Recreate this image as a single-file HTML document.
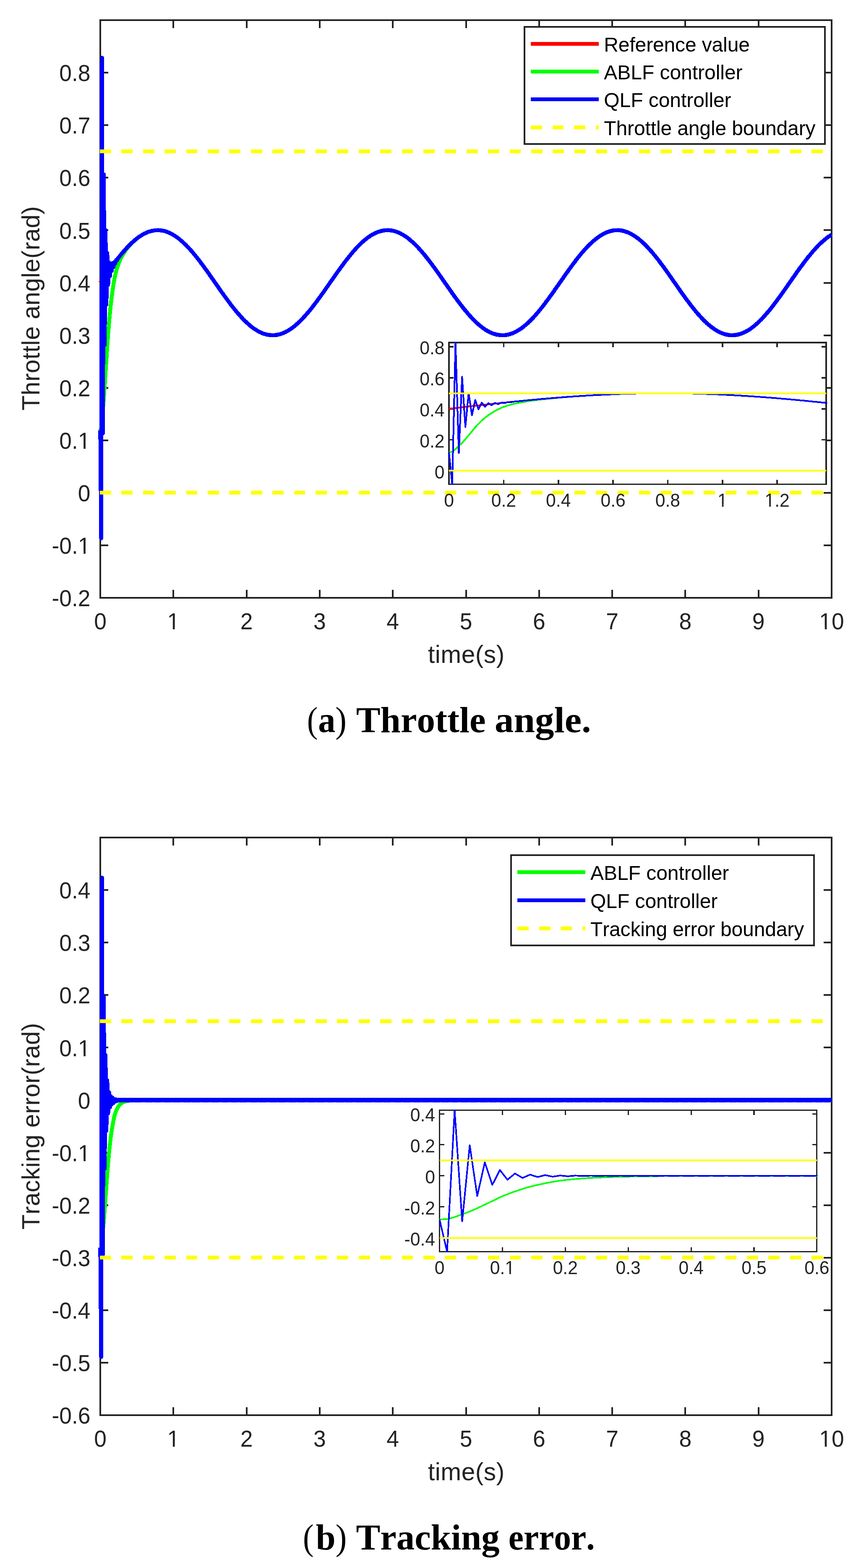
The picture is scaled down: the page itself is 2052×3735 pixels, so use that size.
<!DOCTYPE html>
<html lang="en"><head><meta charset="utf-8"><title>Throttle angle and tracking error</title>
<style>html,body{margin:0;padding:0;background:#fff}body{width:2052px;height:3735px}svg{display:block}text{white-space:pre;font-kerning:none}</style></head><body>
<svg width="2052" height="3735" viewBox="0 0 2052 3735" role="img" aria-label="Throttle angle and tracking error plots">
<rect width="2052" height="3735" fill="#fff"/>
<g shape-rendering="crispEdges">
<g>
<rect x="239" y="48" width="1743" height="1376" fill="#fff" stroke="#232323" stroke-width="4"/>
<path d="M413.3 1424v-19M413.3 48v19M587.6 1424v-19M587.6 48v19M761.9 1424v-19M761.9 48v19M936.2 1424v-19M936.2 48v19M1110.5 1424v-19M1110.5 48v19M1284.8 1424v-19M1284.8 48v19M1459.1 1424v-19M1459.1 48v19M1633.4 1424v-19M1633.4 48v19M1807.7 1424v-19M1807.7 48v19M239 1298.9h19M1982 1298.9h-19M239 1173.8h19M1982 1173.8h-19M239 1048.7h19M1982 1048.7h-19M239 923.6h19M1982 923.6h-19M239 798.5h19M1982 798.5h-19M239 673.5h19M1982 673.5h-19M239 548.4h19M1982 548.4h-19M239 423.3h19M1982 423.3h-19M239 298.2h19M1982 298.2h-19M239 173.1h19M1982 173.1h-19" fill="none" stroke="#232323" stroke-width="4"/>
<text transform="translate(224.17 1499.20) scale(1 1.04)" font-size="53.33" fill="#232323" font-family='"Liberation Sans", sans-serif'>0</text>
<clipPath id="k1"><path clip-rule="evenodd" d="M-9 -53.3H38.7V21.3H-9ZM2.13 -5.48H13.41V5.3H2.13ZM18.12 -5.48H28.80V5.3H18.12Z"/></clipPath>
<text transform="translate(398.47 1499.20) scale(1 1.04)" font-size="53.33" fill="#232323" font-family='"Liberation Sans", sans-serif' clip-path="url(#k1)">1</text>
<text transform="translate(572.77 1499.20) scale(1 1.04)" font-size="53.33" fill="#232323" font-family='"Liberation Sans", sans-serif'>2</text>
<text transform="translate(747.07 1499.20) scale(1 1.04)" font-size="53.33" fill="#232323" font-family='"Liberation Sans", sans-serif'>3</text>
<text transform="translate(921.37 1499.20) scale(1 1.04)" font-size="53.33" fill="#232323" font-family='"Liberation Sans", sans-serif'>4</text>
<text transform="translate(1095.67 1499.20) scale(1 1.04)" font-size="53.33" fill="#232323" font-family='"Liberation Sans", sans-serif'>5</text>
<text transform="translate(1269.97 1499.20) scale(1 1.04)" font-size="53.33" fill="#232323" font-family='"Liberation Sans", sans-serif'>6</text>
<text transform="translate(1444.27 1499.20) scale(1 1.04)" font-size="53.33" fill="#232323" font-family='"Liberation Sans", sans-serif'>7</text>
<text transform="translate(1618.57 1499.20) scale(1 1.04)" font-size="53.33" fill="#232323" font-family='"Liberation Sans", sans-serif'>8</text>
<text transform="translate(1792.87 1499.20) scale(1 1.04)" font-size="53.33" fill="#232323" font-family='"Liberation Sans", sans-serif'>9</text>
<clipPath id="k2"><path clip-rule="evenodd" d="M-9 -53.3H68.3V21.3H-9ZM2.13 -5.48H13.41V5.3H2.13ZM18.12 -5.48H28.80V5.3H18.12Z"/></clipPath>
<text transform="translate(1952.34 1499.20) scale(1 1.04)" font-size="53.33" fill="#232323" font-family='"Liberation Sans", sans-serif' clip-path="url(#k2)">10</text>
<text transform="translate(123.60 1444.20) scale(1 1.04)" font-size="53.33" fill="#232323" font-family='"Liberation Sans", sans-serif'>-0.2</text>
<clipPath id="k3"><path clip-rule="evenodd" d="M-9 -53.3H100.9V21.3H-9ZM64.37 -5.48H75.65V5.3H64.37ZM80.36 -5.48H91.03V5.3H80.36Z"/></clipPath>
<text transform="translate(123.60 1319.11) scale(1 1.04)" font-size="53.33" fill="#232323" font-family='"Liberation Sans", sans-serif' clip-path="url(#k3)">-0.1</text>
<text transform="translate(185.84 1194.02) scale(1 1.04)" font-size="53.33" fill="#232323" font-family='"Liberation Sans", sans-serif'>0</text>
<clipPath id="k4"><path clip-rule="evenodd" d="M-9 -53.3H83.1V21.3H-9ZM46.61 -5.48H57.89V5.3H46.61ZM62.60 -5.48H73.27V5.3H62.60Z"/></clipPath>
<text transform="translate(141.36 1068.93) scale(1 1.04)" font-size="53.33" fill="#232323" font-family='"Liberation Sans", sans-serif' clip-path="url(#k4)">0.1</text>
<text transform="translate(141.36 943.84) scale(1 1.04)" font-size="53.33" fill="#232323" font-family='"Liberation Sans", sans-serif'>0.2</text>
<text transform="translate(141.36 818.75) scale(1 1.04)" font-size="53.33" fill="#232323" font-family='"Liberation Sans", sans-serif'>0.3</text>
<text transform="translate(141.36 693.65) scale(1 1.04)" font-size="53.33" fill="#232323" font-family='"Liberation Sans", sans-serif'>0.4</text>
<text transform="translate(141.36 568.56) scale(1 1.04)" font-size="53.33" fill="#232323" font-family='"Liberation Sans", sans-serif'>0.5</text>
<text transform="translate(141.36 443.47) scale(1 1.04)" font-size="53.33" fill="#232323" font-family='"Liberation Sans", sans-serif'>0.6</text>
<text transform="translate(141.36 318.38) scale(1 1.04)" font-size="53.33" fill="#232323" font-family='"Liberation Sans", sans-serif'>0.7</text>
<text transform="translate(141.36 193.29) scale(1 1.04)" font-size="53.33" fill="#232323" font-family='"Liberation Sans", sans-serif'>0.8</text>
<text x="1111.1" y="1579" font-size="58.67" text-anchor="middle" fill="#232323" font-family='"Liberation Sans", sans-serif' textLength="182.2" lengthAdjust="spacing">time(s)</text>
<text transform="translate(93.5 734.4) rotate(-90)" font-size="58.67" text-anchor="middle" fill="#232323" font-family='"Liberation Sans", sans-serif' textLength="486.6" lengthAdjust="spacing">Throttle angle(rad)</text>
<polyline points="239,673.5 241.1,670.5 243.2,667.5 245.3,664.5 247.4,661.5 249.5,658.5 251.5,655.5 253.6,652.5 255.7,649.6 257.8,646.6 259.9,643.7 262,640.8 264.1,637.9 266.2,635.1 268.3,632.2 270.4,629.4 272.5,626.6 274.6,623.8 276.6,621.1 278.7,618.4 280.8,615.7 282.9,613 285,610.4 287.1,607.9 289.2,605.3 291.3,602.8 293.4,600.4 295.5,598 297.6,595.6 299.7,593.3 301.7,591 303.8,588.7 305.9,586.6 308,584.4 310.1,582.3 312.2,580.3 314.3,578.3 316.4,576.4 318.5,574.5 320.6,572.7 322.7,571 324.8,569.3 326.8,567.7 328.9,566.1 331,564.6 333.1,563.1 335.2,561.7 337.3,560.4 339.4,559.2 341.5,558 343.6,556.9 345.7,555.8 347.8,554.8 349.9,553.9 351.9,553.1 354,552.3 356.1,551.6 358.2,550.9 360.3,550.4 362.4,549.9 364.5,549.4 366.6,549.1 368.7,548.8 370.8,548.6 372.9,548.4 375,548.4 377,548.4 379.1,548.5 381.2,548.6 383.3,548.8 385.4,549.1 387.5,549.5 389.6,549.9 391.7,550.4 393.8,551 395.9,551.6 398,552.4 400.1,553.1 402.1,554 404.2,554.9 406.3,555.9 408.4,557 410.5,558.1 412.6,559.3 414.7,560.6 416.8,561.9 418.9,563.3 421,564.7 423.1,566.2 425.2,567.8 427.2,569.5 429.3,571.2 431.4,572.9 433.5,574.7 435.6,576.6 437.7,578.5 439.8,580.5 441.9,582.5 444,584.6 446.1,586.8 448.2,589 450.3,591.2 452.3,593.5 454.4,595.8 456.5,598.2 458.6,600.6 460.7,603.1 462.8,605.6 464.9,608.1 467,610.7 469.1,613.3 471.2,616 473.3,618.6 475.4,621.4 477.4,624.1 479.5,626.9 481.6,629.7 483.7,632.5 485.8,635.3 487.9,638.2 490,641.1 492.1,644 494.2,646.9 496.3,649.9 498.4,652.8 500.5,655.8 502.5,658.8 504.6,661.8 506.7,664.8 508.8,667.8 510.9,670.8 513,673.8 515.1,676.8 517.2,679.8 519.3,682.8 521.4,685.7 523.5,688.7 525.5,691.7 527.6,694.7 529.7,697.6 531.8,700.6 533.9,703.5 536,706.4 538.1,709.3 540.2,712.1 542.3,715 544.4,717.8 546.5,720.6 548.6,723.4 550.6,726.1 552.7,728.8 554.8,731.5 556.9,734.1 559,736.7 561.1,739.3 563.2,741.8 565.3,744.3 567.4,746.8 569.5,749.2 571.6,751.6 573.7,753.9 575.7,756.2 577.8,758.4 579.9,760.6 582,762.7 584.1,764.8 586.2,766.8 588.3,768.8 590.4,770.7 592.5,772.6 594.6,774.4 596.7,776.1 598.8,777.8 600.8,779.4 602.9,781 605,782.5 607.1,783.9 609.2,785.3 611.3,786.6 613.4,787.9 615.5,789 617.6,790.2 619.7,791.2 621.8,792.2 623.9,793.1 625.9,793.9 628,794.7 630.1,795.4 632.2,796 634.3,796.6 636.4,797.1 638.5,797.5 640.6,797.9 642.7,798.1 644.8,798.3 646.9,798.5 649,798.5 651,798.5 653.1,798.4 655.2,798.3 657.3,798.1 659.4,797.8 661.5,797.4 663.6,797 665.7,796.4 667.8,795.9 669.9,795.2 672,794.5 674.1,793.7 676.1,792.8 678.2,791.9 680.3,790.9 682.4,789.8 684.5,788.7 686.6,787.5 688.7,786.2 690.8,784.9 692.9,783.5 695,782 697.1,780.5 699.2,778.9 701.2,777.3 703.3,775.6 705.4,773.8 707.5,772 709.6,770.1 711.7,768.2 713.8,766.2 715.9,764.2 718,762.1 720.1,759.9 722.2,757.7 724.3,755.5 726.3,753.2 728.4,750.9 730.5,748.5 732.6,746.1 734.7,743.6 736.8,741.1 738.9,738.5 741,736 743.1,733.3 745.2,730.7 747.3,728 749.4,725.3 751.4,722.5 753.5,719.8 755.6,717 757.7,714.1 759.8,711.3 761.9,708.4 764,705.5 766.1,702.6 768.2,699.7 770.3,696.7 772.4,693.8 774.4,690.8 776.5,687.8 778.6,684.8 780.7,681.9 782.8,678.9 784.9,675.9 787,672.9 789.1,669.9 791.2,666.9 793.3,663.9 795.4,660.9 797.5,657.9 799.5,654.9 801.6,651.9 803.7,649 805.8,646.1 807.9,643.1 810,640.2 812.1,637.3 814.2,634.5 816.3,631.6 818.4,628.8 820.5,626 822.6,623.3 824.6,620.5 826.7,617.8 828.8,615.2 830.9,612.5 833,609.9 835.1,607.3 837.2,604.8 839.3,602.3 841.4,599.9 843.5,597.5 845.6,595.1 847.7,592.8 849.7,590.5 851.8,588.3 853.9,586.1 856,584 858.1,581.9 860.2,579.9 862.3,577.9 864.4,576 866.5,574.2 868.6,572.4 870.7,570.6 872.8,569 874.8,567.3 876.9,565.8 879,564.3 881.1,562.8 883.2,561.5 885.3,560.2 887.4,558.9 889.5,557.8 891.6,556.6 893.7,555.6 895.8,554.6 897.9,553.7 899.9,552.9 902,552.1 904.1,551.4 906.2,550.8 908.3,550.3 910.4,549.8 912.5,549.4 914.6,549 916.7,548.7 918.8,548.5 920.9,548.4 923,548.4 925,548.4 927.1,548.5 929.2,548.6 931.3,548.9 933.4,549.2 935.5,549.6 937.6,550 939.7,550.5 941.8,551.1 943.9,551.8 946,552.5 948.1,553.3 950.1,554.2 952.2,555.1 954.3,556.1 956.4,557.2 958.5,558.3 960.6,559.5 962.7,560.8 964.8,562.2 966.9,563.6 969,565 971.1,566.6 973.2,568.1 975.2,569.8 977.3,571.5 979.4,573.3 981.5,575.1 983.6,577 985.7,578.9 987.8,580.9 989.9,583 992,585.1 994.1,587.2 996.2,589.4 998.3,591.7 1000.3,593.9 1002.4,596.3 1004.5,598.7 1006.6,601.1 1008.7,603.6 1010.8,606.1 1012.9,608.6 1015,611.2 1017.1,613.8 1019.2,616.5 1021.3,619.2 1023.4,621.9 1025.4,624.7 1027.5,627.4 1029.6,630.2 1031.7,633.1 1033.8,635.9 1035.9,638.8 1038,641.7 1040.1,644.6 1042.2,647.5 1044.3,650.5 1046.4,653.4 1048.4,656.4 1050.5,659.4 1052.6,662.4 1054.7,665.4 1056.8,668.4 1058.9,671.4 1061,674.4 1063.1,677.4 1065.2,680.4 1067.3,683.4 1069.4,686.3 1071.5,689.3 1073.5,692.3 1075.6,695.3 1077.7,698.2 1079.8,701.1 1081.9,704.1 1084,707 1086.1,709.9 1088.2,712.7 1090.3,715.6 1092.4,718.4 1094.5,721.2 1096.6,723.9 1098.6,726.6 1100.7,729.3 1102.8,732 1104.9,734.7 1107,737.3 1109.1,739.8 1111.2,742.3 1113.3,744.8 1115.4,747.3 1117.5,749.7 1119.6,752 1121.7,754.3 1123.7,756.6 1125.8,758.8 1127.9,761 1130,763.1 1132.1,765.2 1134.2,767.2 1136.3,769.2 1138.4,771.1 1140.5,772.9 1142.6,774.7 1144.7,776.4 1146.8,778.1 1148.8,779.7 1150.9,781.3 1153,782.8 1155.1,784.2 1157.2,785.6 1159.3,786.9 1161.4,788.1 1163.5,789.3 1165.6,790.4 1167.7,791.4 1169.8,792.4 1171.9,793.3 1173.9,794.1 1176,794.9 1178.1,795.5 1180.2,796.2 1182.3,796.7 1184.4,797.2 1186.5,797.6 1188.6,797.9 1190.7,798.2 1192.8,798.4 1194.9,798.5 1197,798.5 1199,798.5 1201.1,798.4 1203.2,798.3 1205.3,798 1207.4,797.7 1209.5,797.3 1211.6,796.9 1213.7,796.3 1215.8,795.7 1217.9,795.1 1220,794.3 1222.1,793.5 1224.1,792.6 1226.2,791.7 1228.3,790.7 1230.4,789.6 1232.5,788.5 1234.6,787.2 1236.7,786 1238.8,784.6 1240.9,783.2 1243,781.7 1245.1,780.2 1247.2,778.6 1249.2,776.9 1251.3,775.2 1253.4,773.5 1255.5,771.6 1257.6,769.7 1259.7,767.8 1261.8,765.8 1263.9,763.7 1266,761.6 1268.1,759.5 1270.2,757.3 1272.3,755 1274.3,752.7 1276.4,750.4 1278.5,748 1280.6,745.6 1282.7,743.1 1284.8,740.6 1286.9,738 1289,735.4 1291.1,732.8 1293.2,730.1 1295.3,727.5 1297.3,724.7 1299.4,722 1301.5,719.2 1303.6,716.4 1305.7,713.6 1307.8,710.7 1309.9,707.8 1312,704.9 1314.1,702 1316.2,699.1 1318.3,696.1 1320.4,693.2 1322.4,690.2 1324.5,687.2 1326.6,684.2 1328.7,681.3 1330.8,678.3 1332.9,675.3 1335,672.3 1337.1,669.2 1339.2,666.2 1341.3,663.3 1343.4,660.3 1345.5,657.3 1347.5,654.3 1349.6,651.4 1351.7,648.4 1353.8,645.5 1355.9,642.6 1358,639.7 1360.1,636.8 1362.2,633.9 1364.3,631.1 1366.4,628.3 1368.5,625.5 1370.6,622.7 1372.6,620 1374.7,617.3 1376.8,614.6 1378.9,612 1381,609.4 1383.1,606.8 1385.2,604.3 1387.3,601.8 1389.4,599.4 1391.5,597 1393.6,594.6 1395.7,592.3 1397.7,590.1 1399.8,587.9 1401.9,585.7 1404,583.6 1406.1,581.5 1408.2,579.5 1410.3,577.6 1412.4,575.7 1414.5,573.8 1416.6,572 1418.7,570.3 1420.8,568.6 1422.8,567 1424.9,565.5 1427,564 1429.1,562.6 1431.2,561.2 1433.3,559.9 1435.4,558.7 1437.5,557.5 1439.6,556.4 1441.7,555.4 1443.8,554.4 1445.9,553.6 1447.9,552.7 1450,552 1452.1,551.3 1454.2,550.7 1456.3,550.1 1458.4,549.7 1460.5,549.3 1462.6,549 1464.7,548.7 1466.8,548.5 1468.9,548.4 1471,548.4 1473,548.4 1475.1,548.5 1477.2,548.7 1479.3,548.9 1481.4,549.2 1483.5,549.6 1485.6,550.1 1487.7,550.6 1489.8,551.2 1491.9,551.9 1494,552.7 1496.1,553.5 1498.1,554.4 1500.2,555.3 1502.3,556.3 1504.4,557.4 1506.5,558.6 1508.6,559.8 1510.7,561.1 1512.8,562.4 1514.9,563.8 1517,565.3 1519.1,566.9 1521.2,568.5 1523.2,570.1 1525.3,571.9 1527.4,573.6 1529.5,575.5 1531.6,577.4 1533.7,579.3 1535.8,581.3 1537.9,583.4 1540,585.5 1542.1,587.6 1544.2,589.9 1546.2,592.1 1548.3,594.4 1550.4,596.8 1552.5,599.2 1554.6,601.6 1556.7,604.1 1558.8,606.6 1560.9,609.1 1563,611.7 1565.1,614.4 1567.2,617 1569.3,619.7 1571.3,622.5 1573.4,625.2 1575.5,628 1577.6,630.8 1579.7,633.6 1581.8,636.5 1583.9,639.4 1586,642.3 1588.1,645.2 1590.2,648.1 1592.3,651.1 1594.4,654 1596.4,657 1598.5,660 1600.6,663 1602.7,666 1604.8,669 1606.9,672 1609,675 1611.1,678 1613.2,681 1615.3,684 1617.4,686.9 1619.5,689.9 1621.5,692.9 1623.6,695.9 1625.7,698.8 1627.8,701.7 1629.9,704.6 1632,707.5 1634.1,710.4 1636.2,713.3 1638.3,716.1 1640.4,718.9 1642.5,721.7 1644.6,724.5 1646.6,727.2 1648.7,729.9 1650.8,732.6 1652.9,735.2 1655,737.8 1657.1,740.3 1659.2,742.8 1661.3,745.3 1663.4,747.8 1665.5,750.2 1667.6,752.5 1669.7,754.8 1671.7,757.1 1673.8,759.3 1675.9,761.4 1678,763.5 1680.1,765.6 1682.2,767.6 1684.3,769.6 1686.4,771.4 1688.5,773.3 1690.6,775.1 1692.7,776.8 1694.8,778.4 1696.8,780 1698.9,781.6 1701,783.1 1703.1,784.5 1705.2,785.8 1707.3,787.1 1709.4,788.3 1711.5,789.5 1713.6,790.6 1715.7,791.6 1717.8,792.6 1719.9,793.4 1721.9,794.3 1724,795 1726.1,795.7 1728.2,796.3 1730.3,796.8 1732.4,797.3 1734.5,797.7 1736.6,798 1738.7,798.2 1740.8,798.4 1742.9,798.5 1745,798.5 1747,798.5 1749.1,798.4 1751.2,798.2 1753.3,798 1755.4,797.6 1757.5,797.2 1759.6,796.8 1761.7,796.2 1763.8,795.6 1765.9,794.9 1768,794.2 1770.1,793.3 1772.1,792.5 1774.2,791.5 1776.3,790.5 1778.4,789.4 1780.5,788.2 1782.6,787 1784.7,785.7 1786.8,784.3 1788.9,782.9 1791,781.4 1793.1,779.9 1795.2,778.3 1797.2,776.6 1799.3,774.9 1801.4,773.1 1803.5,771.3 1805.6,769.4 1807.7,767.4 1809.8,765.4 1811.9,763.3 1814,761.2 1816.1,759 1818.2,756.8 1820.2,754.6 1822.3,752.3 1824.4,749.9 1826.5,747.5 1828.6,745.1 1830.7,742.6 1832.8,740.1 1834.9,737.5 1837,734.9 1839.1,732.3 1841.2,729.6 1843.3,726.9 1845.3,724.2 1847.4,721.4 1849.5,718.6 1851.6,715.8 1853.7,713 1855.8,710.1 1857.9,707.2 1860,704.3 1862.1,701.4 1864.2,698.5 1866.3,695.5 1868.4,692.6 1870.4,689.6 1872.5,686.6 1874.6,683.6 1876.7,680.7 1878.8,677.7 1880.9,674.6 1883,671.6 1885.1,668.6 1887.2,665.6 1889.3,662.7 1891.4,659.7 1893.5,656.7 1895.5,653.7 1897.6,650.8 1899.7,647.8 1901.8,644.9 1903.9,642 1906,639.1 1908.1,636.2 1910.2,633.3 1912.3,630.5 1914.4,627.7 1916.5,624.9 1918.6,622.2 1920.6,619.4 1922.7,616.8 1924.8,614.1 1926.9,611.5 1929,608.9 1931.1,606.3 1933.2,603.8 1935.3,601.3 1937.4,598.9 1939.5,596.5 1941.6,594.2 1943.7,591.9 1945.7,589.6 1947.8,587.4 1949.9,585.3 1952,583.2 1954.1,581.1 1956.2,579.1 1958.3,577.2 1960.4,575.3 1962.5,573.4 1964.6,571.7 1966.7,570 1968.8,568.3 1970.8,566.7 1972.9,565.2 1975,563.7 1977.1,562.3 1979.2,560.9 1982,559.3" fill="none" stroke="#f00" stroke-width="9.33" stroke-linejoin="round" stroke-linecap="butt"/>
<polyline points="239,1025.3 241.1,1021 243.2,1000.7 245.3,974.7 247.4,950.2 249.5,919.9 251.5,888.2 253.6,856.4 255.7,823.5 257.8,795.3 259.9,769.4 262,746.4 264.1,725.5 266.2,708.4 268.3,692.5 270.4,678.2 272.5,665.4 274.6,655.6 276.6,647.1 278.7,639.7 280.8,633.2 282.9,627.4 285,622.2 287.1,617.5 289.2,613.2 291.3,609.3 293.4,605.7 295.5,602.3 297.6,599.1 299.7,596.2 301.7,593.4 303.8,590.7 305.9,588.2 308,585.7 310.1,583.4 312.2,581.2 314.3,579.1 316.4,577 318.5,575 320.6,573.1 322.7,571.3 324.8,569.6 326.8,567.9 328.9,566.3 331,564.7 333.1,563.2 335.2,561.8 337.3,560.5 339.4,559.2 341.5,558 343.6,556.9 345.7,555.8 347.8,554.9 349.9,553.9 351.9,553.1 354,552.3 356.1,551.6 358.2,550.9 360.3,550.4 362.4,549.9 364.5,549.4 366.6,549.1 368.7,548.8 370.8,548.6 372.9,548.4 375,548.4 377,548.4 379.1,548.5 381.2,548.6 383.3,548.8 385.4,549.1 387.5,549.5 389.6,549.9 391.7,550.4 393.8,551 395.9,551.6 398,552.4 400.1,553.1 402.1,554 404.2,554.9 406.3,555.9 408.4,557 410.5,558.1 412.6,559.3 414.7,560.6 416.8,561.9 418.9,563.3 421,564.7 423.1,566.2 425.2,567.8 427.2,569.5 429.3,571.2 431.4,572.9 433.5,574.7 435.6,576.6 437.7,578.5 439.8,580.5 441.9,582.5 444,584.6 446.1,586.8 448.2,589 450.3,591.2 452.3,593.5 454.4,595.8 456.5,598.2 458.6,600.6 460.7,603.1 462.8,605.6 464.9,608.1 467,610.7 469.1,613.3 471.2,616 473.3,618.6 475.4,621.4 477.4,624.1 479.5,626.9 481.6,629.7 483.7,632.5 485.8,635.3 487.9,638.2 490,641.1 492.1,644 494.2,646.9 496.3,649.9 498.4,652.8 500.5,655.8 502.5,658.8 504.6,661.8 506.7,664.8 508.8,667.8 510.9,670.8 513,673.8 515.1,676.8 517.2,679.8 519.3,682.8 521.4,685.7 523.5,688.7 525.5,691.7 527.6,694.7 529.7,697.6 531.8,700.6 533.9,703.5 536,706.4 538.1,709.3 540.2,712.1 542.3,715 544.4,717.8 546.5,720.6 548.6,723.4 550.6,726.1 552.7,728.8 554.8,731.5 556.9,734.1 559,736.7 561.1,739.3 563.2,741.8 565.3,744.3 567.4,746.8 569.5,749.2 571.6,751.6 573.7,753.9 575.7,756.2 577.8,758.4 579.9,760.6 582,762.7 584.1,764.8 586.2,766.8 588.3,768.8 590.4,770.7 592.5,772.6 594.6,774.4 596.7,776.1 598.8,777.8 600.8,779.4 602.9,781 605,782.5 607.1,783.9 609.2,785.3 611.3,786.6 613.4,787.9 615.5,789 617.6,790.2 619.7,791.2 621.8,792.2 623.9,793.1 625.9,793.9 628,794.7 630.1,795.4 632.2,796 634.3,796.6 636.4,797.1 638.5,797.5 640.6,797.9 642.7,798.1 644.8,798.3 646.9,798.5 649,798.5 651,798.5 653.1,798.4 655.2,798.3 657.3,798.1 659.4,797.8 661.5,797.4 663.6,797 665.7,796.4 667.8,795.9 669.9,795.2 672,794.5 674.1,793.7 676.1,792.8 678.2,791.9 680.3,790.9 682.4,789.8 684.5,788.7 686.6,787.5 688.7,786.2 690.8,784.9 692.9,783.5 695,782 697.1,780.5 699.2,778.9 701.2,777.3 703.3,775.6 705.4,773.8 707.5,772 709.6,770.1 711.7,768.2 713.8,766.2 715.9,764.2 718,762.1 720.1,759.9 722.2,757.7 724.3,755.5 726.3,753.2 728.4,750.9 730.5,748.5 732.6,746.1 734.7,743.6 736.8,741.1 738.9,738.5 741,736 743.1,733.3 745.2,730.7 747.3,728 749.4,725.3 751.4,722.5 753.5,719.8 755.6,717 757.7,714.1 759.8,711.3 761.9,708.4 764,705.5 766.1,702.6 768.2,699.7 770.3,696.7 772.4,693.8 774.4,690.8 776.5,687.8 778.6,684.8 780.7,681.9 782.8,678.9 784.9,675.9 787,672.9 789.1,669.9 791.2,666.9 793.3,663.9 795.4,660.9 797.5,657.9 799.5,654.9 801.6,651.9 803.7,649 805.8,646.1 807.9,643.1 810,640.2 812.1,637.3 814.2,634.5 816.3,631.6 818.4,628.8 820.5,626 822.6,623.3 824.6,620.5 826.7,617.8 828.8,615.2 830.9,612.5 833,609.9 835.1,607.3 837.2,604.8 839.3,602.3 841.4,599.9 843.5,597.5 845.6,595.1 847.7,592.8 849.7,590.5 851.8,588.3 853.9,586.1 856,584 858.1,581.9 860.2,579.9 862.3,577.9 864.4,576 866.5,574.2 868.6,572.4 870.7,570.6 872.8,569 874.8,567.3 876.9,565.8 879,564.3 881.1,562.8 883.2,561.5 885.3,560.2 887.4,558.9 889.5,557.8 891.6,556.6 893.7,555.6 895.8,554.6 897.9,553.7 899.9,552.9 902,552.1 904.1,551.4 906.2,550.8 908.3,550.3 910.4,549.8 912.5,549.4 914.6,549 916.7,548.7 918.8,548.5 920.9,548.4 923,548.4 925,548.4 927.1,548.5 929.2,548.6 931.3,548.9 933.4,549.2 935.5,549.6 937.6,550 939.7,550.5 941.8,551.1 943.9,551.8 946,552.5 948.1,553.3 950.1,554.2 952.2,555.1 954.3,556.1 956.4,557.2 958.5,558.3 960.6,559.5 962.7,560.8 964.8,562.2 966.9,563.6 969,565 971.1,566.6 973.2,568.1 975.2,569.8 977.3,571.5 979.4,573.3 981.5,575.1 983.6,577 985.7,578.9 987.8,580.9 989.9,583 992,585.1 994.1,587.2 996.2,589.4 998.3,591.7 1000.3,593.9 1002.4,596.3 1004.5,598.7 1006.6,601.1 1008.7,603.6 1010.8,606.1 1012.9,608.6 1015,611.2 1017.1,613.8 1019.2,616.5 1021.3,619.2 1023.4,621.9 1025.4,624.7 1027.5,627.4 1029.6,630.2 1031.7,633.1 1033.8,635.9 1035.9,638.8 1038,641.7 1040.1,644.6 1042.2,647.5 1044.3,650.5 1046.4,653.4 1048.4,656.4 1050.5,659.4 1052.6,662.4 1054.7,665.4 1056.8,668.4 1058.9,671.4 1061,674.4 1063.1,677.4 1065.2,680.4 1067.3,683.4 1069.4,686.3 1071.5,689.3 1073.5,692.3 1075.6,695.3 1077.7,698.2 1079.8,701.1 1081.9,704.1 1084,707 1086.1,709.9 1088.2,712.7 1090.3,715.6 1092.4,718.4 1094.5,721.2 1096.6,723.9 1098.6,726.6 1100.7,729.3 1102.8,732 1104.9,734.7 1107,737.3 1109.1,739.8 1111.2,742.3 1113.3,744.8 1115.4,747.3 1117.5,749.7 1119.6,752 1121.7,754.3 1123.7,756.6 1125.8,758.8 1127.9,761 1130,763.1 1132.1,765.2 1134.2,767.2 1136.3,769.2 1138.4,771.1 1140.5,772.9 1142.6,774.7 1144.7,776.4 1146.8,778.1 1148.8,779.7 1150.9,781.3 1153,782.8 1155.1,784.2 1157.2,785.6 1159.3,786.9 1161.4,788.1 1163.5,789.3 1165.6,790.4 1167.7,791.4 1169.8,792.4 1171.9,793.3 1173.9,794.1 1176,794.9 1178.1,795.5 1180.2,796.2 1182.3,796.7 1184.4,797.2 1186.5,797.6 1188.6,797.9 1190.7,798.2 1192.8,798.4 1194.9,798.5 1197,798.5 1199,798.5 1201.1,798.4 1203.2,798.3 1205.3,798 1207.4,797.7 1209.5,797.3 1211.6,796.9 1213.7,796.3 1215.8,795.7 1217.9,795.1 1220,794.3 1222.1,793.5 1224.1,792.6 1226.2,791.7 1228.3,790.7 1230.4,789.6 1232.5,788.5 1234.6,787.2 1236.7,786 1238.8,784.6 1240.9,783.2 1243,781.7 1245.1,780.2 1247.2,778.6 1249.2,776.9 1251.3,775.2 1253.4,773.5 1255.5,771.6 1257.6,769.7 1259.7,767.8 1261.8,765.8 1263.9,763.7 1266,761.6 1268.1,759.5 1270.2,757.3 1272.3,755 1274.3,752.7 1276.4,750.4 1278.5,748 1280.6,745.6 1282.7,743.1 1284.8,740.6 1286.9,738 1289,735.4 1291.1,732.8 1293.2,730.1 1295.3,727.5 1297.3,724.7 1299.4,722 1301.5,719.2 1303.6,716.4 1305.7,713.6 1307.8,710.7 1309.9,707.8 1312,704.9 1314.1,702 1316.2,699.1 1318.3,696.1 1320.4,693.2 1322.4,690.2 1324.5,687.2 1326.6,684.2 1328.7,681.3 1330.8,678.3 1332.9,675.3 1335,672.3 1337.1,669.2 1339.2,666.2 1341.3,663.3 1343.4,660.3 1345.5,657.3 1347.5,654.3 1349.6,651.4 1351.7,648.4 1353.8,645.5 1355.9,642.6 1358,639.7 1360.1,636.8 1362.2,633.9 1364.3,631.1 1366.4,628.3 1368.5,625.5 1370.6,622.7 1372.6,620 1374.7,617.3 1376.8,614.6 1378.9,612 1381,609.4 1383.1,606.8 1385.2,604.3 1387.3,601.8 1389.4,599.4 1391.5,597 1393.6,594.6 1395.7,592.3 1397.7,590.1 1399.8,587.9 1401.9,585.7 1404,583.6 1406.1,581.5 1408.2,579.5 1410.3,577.6 1412.4,575.7 1414.5,573.8 1416.6,572 1418.7,570.3 1420.8,568.6 1422.8,567 1424.9,565.5 1427,564 1429.1,562.6 1431.2,561.2 1433.3,559.9 1435.4,558.7 1437.5,557.5 1439.6,556.4 1441.7,555.4 1443.8,554.4 1445.9,553.6 1447.9,552.7 1450,552 1452.1,551.3 1454.2,550.7 1456.3,550.1 1458.4,549.7 1460.5,549.3 1462.6,549 1464.7,548.7 1466.8,548.5 1468.9,548.4 1471,548.4 1473,548.4 1475.1,548.5 1477.2,548.7 1479.3,548.9 1481.4,549.2 1483.5,549.6 1485.6,550.1 1487.7,550.6 1489.8,551.2 1491.9,551.9 1494,552.7 1496.1,553.5 1498.1,554.4 1500.2,555.3 1502.3,556.3 1504.4,557.4 1506.5,558.6 1508.6,559.8 1510.7,561.1 1512.8,562.4 1514.9,563.8 1517,565.3 1519.1,566.9 1521.2,568.5 1523.2,570.1 1525.3,571.9 1527.4,573.6 1529.5,575.5 1531.6,577.4 1533.7,579.3 1535.8,581.3 1537.9,583.4 1540,585.5 1542.1,587.6 1544.2,589.9 1546.2,592.1 1548.3,594.4 1550.4,596.8 1552.5,599.2 1554.6,601.6 1556.7,604.1 1558.8,606.6 1560.9,609.1 1563,611.7 1565.1,614.4 1567.2,617 1569.3,619.7 1571.3,622.5 1573.4,625.2 1575.5,628 1577.6,630.8 1579.7,633.6 1581.8,636.5 1583.9,639.4 1586,642.3 1588.1,645.2 1590.2,648.1 1592.3,651.1 1594.4,654 1596.4,657 1598.5,660 1600.6,663 1602.7,666 1604.8,669 1606.9,672 1609,675 1611.1,678 1613.2,681 1615.3,684 1617.4,686.9 1619.5,689.9 1621.5,692.9 1623.6,695.9 1625.7,698.8 1627.8,701.7 1629.9,704.6 1632,707.5 1634.1,710.4 1636.2,713.3 1638.3,716.1 1640.4,718.9 1642.5,721.7 1644.6,724.5 1646.6,727.2 1648.7,729.9 1650.8,732.6 1652.9,735.2 1655,737.8 1657.1,740.3 1659.2,742.8 1661.3,745.3 1663.4,747.8 1665.5,750.2 1667.6,752.5 1669.7,754.8 1671.7,757.1 1673.8,759.3 1675.9,761.4 1678,763.5 1680.1,765.6 1682.2,767.6 1684.3,769.6 1686.4,771.4 1688.5,773.3 1690.6,775.1 1692.7,776.8 1694.8,778.4 1696.8,780 1698.9,781.6 1701,783.1 1703.1,784.5 1705.2,785.8 1707.3,787.1 1709.4,788.3 1711.5,789.5 1713.6,790.6 1715.7,791.6 1717.8,792.6 1719.9,793.4 1721.9,794.3 1724,795 1726.1,795.7 1728.2,796.3 1730.3,796.8 1732.4,797.3 1734.5,797.7 1736.6,798 1738.7,798.2 1740.8,798.4 1742.9,798.5 1745,798.5 1747,798.5 1749.1,798.4 1751.2,798.2 1753.3,798 1755.4,797.6 1757.5,797.2 1759.6,796.8 1761.7,796.2 1763.8,795.6 1765.9,794.9 1768,794.2 1770.1,793.3 1772.1,792.5 1774.2,791.5 1776.3,790.5 1778.4,789.4 1780.5,788.2 1782.6,787 1784.7,785.7 1786.8,784.3 1788.9,782.9 1791,781.4 1793.1,779.9 1795.2,778.3 1797.2,776.6 1799.3,774.9 1801.4,773.1 1803.5,771.3 1805.6,769.4 1807.7,767.4 1809.8,765.4 1811.9,763.3 1814,761.2 1816.1,759 1818.2,756.8 1820.2,754.6 1822.3,752.3 1824.4,749.9 1826.5,747.5 1828.6,745.1 1830.7,742.6 1832.8,740.1 1834.9,737.5 1837,734.9 1839.1,732.3 1841.2,729.6 1843.3,726.9 1845.3,724.2 1847.4,721.4 1849.5,718.6 1851.6,715.8 1853.7,713 1855.8,710.1 1857.9,707.2 1860,704.3 1862.1,701.4 1864.2,698.5 1866.3,695.5 1868.4,692.6 1870.4,689.6 1872.5,686.6 1874.6,683.6 1876.7,680.7 1878.8,677.7 1880.9,674.6 1883,671.6 1885.1,668.6 1887.2,665.6 1889.3,662.7 1891.4,659.7 1893.5,656.7 1895.5,653.7 1897.6,650.8 1899.7,647.8 1901.8,644.9 1903.9,642 1906,639.1 1908.1,636.2 1910.2,633.3 1912.3,630.5 1914.4,627.7 1916.5,624.9 1918.6,622.2 1920.6,619.4 1922.7,616.8 1924.8,614.1 1926.9,611.5 1929,608.9 1931.1,606.3 1933.2,603.8 1935.3,601.3 1937.4,598.9 1939.5,596.5 1941.6,594.2 1943.7,591.9 1945.7,589.6 1947.8,587.4 1949.9,585.3 1952,583.2 1954.1,581.1 1956.2,579.1 1958.3,577.2 1960.4,575.3 1962.5,573.4 1964.6,571.7 1966.7,570 1968.8,568.3 1970.8,566.7 1972.9,565.2 1975,563.7 1977.1,562.3 1979.2,560.9 1982,559.3" fill="none" stroke="#0f0" stroke-width="9.33" stroke-linejoin="round" stroke-linecap="butt"/>
<polyline points="239,1025.3 241.1,1282.5 243.2,137.7 245.3,1032.1 247.4,415.2 249.5,821.5 251.5,547.8 253.6,725.8 255.7,602.9 257.8,678.3 259.9,625.1 262,658.1 264.1,628.5 266.2,645.1 268.3,626.5 270.4,636.5 272.5,624.5 274.6,627.6 276.6,619.6 278.7,620.2 280.8,615.4 282.9,613.3 285,610.2 287.1,608.1 289.2,605.1 291.3,603.1 293.4,600.1 295.5,598.2 297.6,595.3 299.7,593.5 301.7,590.7 303.8,589 305.9,586.3 308,584.7 310.1,582.1 312.2,580.6 314.3,578.1 316.4,576.7 318.5,574.3 320.6,573 322.7,570.7 324.8,569.5 326.8,567.4 328.9,566.3 331,564.3 333.1,563.4 335.2,561.5 337.3,560.7 339.4,558.9 341.5,558.2 343.6,556.6 345.7,556.1 347.8,554.6 349.9,554.2 351.9,552.8 354,552.5 356.1,551.3 358.2,551.2 360.3,550.1 362.4,550.1 364.5,549.2 366.6,549.3 368.7,548.5 370.8,548.8 372.9,548.2 375,548.6 377,548.1 379.1,548.7 381.2,548.3 383.3,549.1 385.4,548.9 387.5,549.7 389.6,549.7 391.7,550.7 393.8,550.7 395.9,551.9 398,552.1 400.1,553.4 402.1,553.7 404.2,555.2 406.3,555.7 408.4,557.2 410.5,557.9 412.6,559.5 414.7,560.3 416.8,562.1 418.9,563 421,565 423.1,566 425.2,568.1 427.2,569.2 429.3,571.4 431.4,572.7 433.5,575 435.6,576.3 437.7,578.8 439.8,580.3 441.9,582.8 444,584.4 446.1,587 448.2,588.7 450.3,591.4 452.3,593.2 454.4,596.1 456.5,597.9 458.6,600.9 460.7,602.8 462.8,605.8 464.9,607.9 467,610.9 469.1,613.1 471.2,616.2 473.3,618.4 475.4,621.6 477.4,623.8 479.5,627.1 481.6,629.4 483.7,632.7 485.8,635.1 487.9,638.5 490,640.9 492.1,644.3 494.2,646.7 496.3,650.1 498.4,652.6 500.5,656.1 502.5,658.5 504.6,662 506.7,664.5 508.8,668 510.9,670.5 513,674 515.1,676.5 517.2,680 519.3,682.5 521.4,686 523.5,688.5 525.5,692 527.6,694.4 529.7,697.9 531.8,700.3 533.9,703.7 536,706.1 538.1,709.5 540.2,711.9 542.3,715.2 544.4,717.6 546.5,720.8 548.6,723.1 550.6,726.4 552.7,728.6 554.8,731.7 556.9,733.9 559,737 561.1,739.1 563.2,742.1 565.3,744.1 567.4,747 569.5,748.9 571.6,751.8 573.7,753.6 575.7,756.4 577.8,758.1 579.9,760.8 582,762.5 584.1,765 586.2,766.6 588.3,769 590.4,770.4 592.5,772.8 594.6,774.1 596.7,776.4 598.8,777.5 600.8,779.7 602.9,780.7 605,782.7 607.1,783.7 609.2,785.5 611.3,786.4 613.4,788.1 615.5,788.8 617.6,790.4 619.7,791 621.8,792.4 623.9,792.8 625.9,794.2 628,794.5 630.1,795.7 632.2,795.8 634.3,796.9 636.4,796.8 638.5,797.8 640.6,797.6 642.7,798.4 644.8,798.1 646.9,798.7 649,798.3 651,798.8 653.1,798.2 655.2,798.5 657.3,797.8 659.4,798 661.5,797.1 663.6,797.2 665.7,796.2 667.8,796.1 669.9,795 672,794.7 674.1,793.4 676.1,793.1 678.2,791.6 680.3,791.1 682.4,789.6 684.5,788.9 686.6,787.2 688.7,786.5 690.8,784.6 692.9,783.7 695,781.8 697.1,780.8 699.2,778.7 701.2,777.5 703.3,775.3 705.4,774.1 707.5,771.7 709.6,770.4 711.7,767.9 713.8,766.4 715.9,763.9 718,762.3 720.1,759.7 722.2,758 724.3,755.2 726.3,753.4 728.4,750.6 730.5,748.7 732.6,745.8 734.7,743.8 736.8,740.8 738.9,738.8 741,735.7 743.1,733.6 745.2,730.4 747.3,728.2 749.4,725 751.4,722.8 753.5,719.5 755.6,717.2 757.7,713.9 759.8,711.5 761.9,708.2 764,705.8 766.1,702.4 768.2,699.9 770.3,696.5 772.4,694 774.4,690.6 776.5,688.1 778.6,684.6 780.7,682.1 782.8,678.6 784.9,676.1 787,672.6 789.1,670.1 791.2,666.6 793.3,664.1 795.4,660.6 797.5,658.1 799.5,654.7 801.6,652.2 803.7,648.7 805.8,646.3 807.9,642.9 810,640.5 812.1,637.1 814.2,634.7 816.3,631.4 818.4,629.1 820.5,625.8 822.6,623.5 824.6,620.3 826.7,618.1 828.8,614.9 830.9,612.8 833,609.7 835.1,607.6 837.2,604.6 839.3,602.6 841.4,599.6 843.5,597.7 845.6,594.9 847.7,593 849.7,590.3 851.8,588.5 853.9,585.9 856,584.2 858.1,581.7 860.2,580.2 862.3,577.7 864.4,576.3 866.5,573.9 868.6,572.6 870.7,570.4 872.8,569.2 874.8,567.1 876.9,566 879,564 881.1,563.1 883.2,561.2 885.3,560.4 887.4,558.7 889.5,558 891.6,556.4 893.7,555.9 895.8,554.4 897.9,554 899.9,552.6 902,552.4 904.1,551.2 906.2,551.1 908.3,550 910.4,550 912.5,549.1 914.6,549.3 916.7,548.5 918.8,548.8 920.9,548.2 923,548.6 925,548.1 927.1,548.7 929.2,548.4 931.3,549.1 933.4,548.9 935.5,549.8 937.6,549.8 939.7,550.8 941.8,550.9 943.9,552 946,552.3 948.1,553.6 950.1,553.9 952.2,555.4 954.3,555.9 956.4,557.4 958.5,558.1 960.6,559.8 962.7,560.6 964.8,562.4 966.9,563.3 969,565.3 971.1,566.3 973.2,568.4 975.2,569.5 977.3,571.8 979.4,573 981.5,575.3 983.6,576.7 985.7,579.2 987.8,580.7 989.9,583.2 992,584.8 994.1,587.5 996.2,589.2 998.3,591.9 1000.3,593.7 1002.4,596.5 1004.5,598.4 1006.6,601.4 1008.7,603.3 1010.8,606.3 1012.9,608.4 1015,611.5 1017.1,613.6 1019.2,616.7 1021.3,618.9 1023.4,622.2 1025.4,624.4 1027.5,627.7 1029.6,630 1031.7,633.3 1033.8,635.7 1035.9,639 1038,641.4 1040.1,644.8 1042.2,647.3 1044.3,650.7 1046.4,653.2 1048.4,656.6 1050.5,659.1 1052.6,662.6 1054.7,665.1 1056.8,668.6 1058.9,671.1 1061,674.6 1063.1,677.1 1065.2,680.6 1067.3,683.1 1069.4,686.6 1071.5,689.1 1073.5,692.5 1075.6,695 1077.7,698.5 1079.8,700.9 1081.9,704.3 1084,706.7 1086.1,710.1 1088.2,712.5 1090.3,715.8 1092.4,718.1 1094.5,721.4 1096.6,723.7 1098.6,726.9 1100.7,729.1 1102.8,732.3 1104.9,734.4 1107,737.5 1109.1,739.6 1111.2,742.6 1113.3,744.6 1115.4,747.5 1117.5,749.4 1119.6,752.3 1121.7,754.1 1123.7,756.9 1125.8,758.6 1127.9,761.3 1130,762.9 1132.1,765.4 1134.2,767 1136.3,769.4 1138.4,770.8 1140.5,773.2 1142.6,774.5 1144.7,776.7 1146.8,777.9 1148.8,780 1150.9,781 1153,783 1155.1,784 1157.2,785.8 1159.3,786.6 1161.4,788.3 1163.5,789 1165.6,790.6 1167.7,791.2 1169.8,792.6 1171.9,793 1173.9,794.3 1176,794.6 1178.1,795.8 1180.2,795.9 1182.3,797 1184.4,796.9 1186.5,797.8 1188.6,797.7 1190.7,798.4 1192.8,798.1 1194.9,798.7 1197,798.3 1199,798.8 1201.1,798.2 1203.2,798.5 1205.3,797.8 1207.4,797.9 1209.5,797.1 1211.6,797.1 1213.7,796.1 1215.8,796 1217.9,794.8 1220,794.6 1222.1,793.3 1224.1,792.9 1226.2,791.4 1228.3,790.9 1230.4,789.4 1232.5,788.7 1234.6,787 1236.7,786.2 1238.8,784.4 1240.9,783.5 1243,781.5 1245.1,780.5 1247.2,778.4 1249.2,777.2 1251.3,775 1253.4,773.7 1255.5,771.4 1257.6,770 1259.7,767.5 1261.8,766 1263.9,763.5 1266,761.9 1268.1,759.2 1270.2,757.5 1272.3,754.8 1274.3,753 1276.4,750.1 1278.5,748.2 1280.6,745.3 1282.7,743.3 1284.8,740.3 1286.9,738.3 1289,735.2 1291.1,733.1 1293.2,729.9 1295.3,727.7 1297.3,724.5 1299.4,722.2 1301.5,718.9 1303.6,716.6 1305.7,713.3 1307.8,711 1309.9,707.6 1312,705.2 1314.1,701.8 1316.2,699.3 1318.3,695.9 1320.4,693.4 1322.4,690 1324.5,687.5 1326.6,684 1328.7,681.5 1330.8,678 1332.9,675.5 1335,672 1337.1,669.5 1339.2,666 1341.3,663.5 1343.4,660 1345.5,657.5 1347.5,654.1 1349.6,651.6 1351.7,648.2 1353.8,645.7 1355.9,642.3 1358,639.9 1360.1,636.5 1362.2,634.2 1364.3,630.8 1366.4,628.5 1368.5,625.2 1370.6,623 1372.6,619.7 1374.7,617.5 1376.8,614.4 1378.9,612.2 1381,609.1 1383.1,607.1 1385.2,604.1 1387.3,602.1 1389.4,599.1 1391.5,597.2 1393.6,594.4 1395.7,592.6 1397.7,589.8 1399.8,588.1 1401.9,585.4 1404,583.8 1406.1,581.3 1408.2,579.8 1410.3,577.3 1412.4,575.9 1414.5,573.6 1416.6,572.3 1418.7,570 1420.8,568.9 1422.8,566.8 1424.9,565.7 1427,563.7 1429.1,562.8 1431.2,561 1433.3,560.2 1435.4,558.4 1437.5,557.8 1439.6,556.2 1441.7,555.7 1443.8,554.2 1445.9,553.8 1447.9,552.5 1450,552.2 1452.1,551.1 1454.2,550.9 1456.3,549.9 1458.4,549.9 1460.5,549 1462.6,549.2 1464.7,548.4 1466.8,548.8 1468.9,548.2 1471,548.6 1473,548.1 1475.1,548.8 1477.2,548.4 1479.3,549.2 1481.4,549 1483.5,549.9 1485.6,549.9 1487.7,550.9 1489.8,551 1491.9,552.2 1494,552.4 1496.1,553.7 1498.1,554.1 1500.2,555.6 1502.3,556.1 1504.4,557.7 1506.5,558.3 1508.6,560 1510.7,560.8 1512.8,562.7 1514.9,563.6 1517,565.6 1519.1,566.6 1521.2,568.7 1523.2,569.9 1525.3,572.1 1527.4,573.4 1529.5,575.7 1531.6,577.1 1533.7,579.6 1535.8,581.1 1537.9,583.6 1540,585.2 1542.1,587.9 1544.2,589.6 1546.2,592.4 1548.3,594.2 1550.4,597 1552.5,598.9 1554.6,601.8 1556.7,603.8 1558.8,606.8 1560.9,608.9 1563,612 1565.1,614.1 1567.2,617.3 1569.3,619.5 1571.3,622.7 1573.4,625 1575.5,628.2 1577.6,630.6 1579.7,633.9 1581.8,636.2 1583.9,639.6 1586,642 1588.1,645.4 1590.2,647.9 1592.3,651.3 1594.4,653.8 1596.4,657.2 1598.5,659.7 1600.6,663.2 1602.7,665.7 1604.8,669.2 1606.9,671.7 1609,675.2 1611.1,677.7 1613.2,681.2 1615.3,683.7 1617.4,687.2 1619.5,689.7 1621.5,693.1 1623.6,695.6 1625.7,699.1 1627.8,701.5 1629.9,704.9 1632,707.3 1634.1,710.7 1636.2,713 1638.3,716.4 1640.4,718.7 1642.5,722 1644.6,724.2 1646.6,727.4 1648.7,729.6 1650.8,732.8 1652.9,734.9 1655,738 1657.1,740.1 1659.2,743.1 1661.3,745.1 1663.4,748 1665.5,749.9 1667.6,752.8 1669.7,754.6 1671.7,757.3 1673.8,759 1675.9,761.7 1678,763.3 1680.1,765.8 1682.2,767.4 1684.3,769.8 1686.4,771.2 1688.5,773.5 1690.6,774.8 1692.7,777 1694.8,778.2 1696.8,780.3 1698.9,781.3 1701,783.3 1703.1,784.2 1705.2,786.1 1707.3,786.9 1709.4,788.6 1711.5,789.2 1713.6,790.8 1715.7,791.4 1717.8,792.8 1719.9,793.2 1721.9,794.5 1724,794.7 1726.1,795.9 1728.2,796 1730.3,797.1 1732.4,797 1734.5,797.9 1736.6,797.7 1738.7,798.5 1740.8,798.2 1742.9,798.8 1745,798.3 1747,798.8 1749.1,798.1 1751.2,798.5 1753.3,797.7 1755.4,797.9 1757.5,797 1759.6,797 1761.7,796 1763.8,795.9 1765.9,794.7 1768,794.4 1770.1,793.1 1772.1,792.7 1774.2,791.2 1776.3,790.7 1778.4,789.1 1780.5,788.5 1782.6,786.7 1784.7,785.9 1786.8,784.1 1788.9,783.2 1791,781.2 1793.1,780.1 1795.2,778 1797.2,776.9 1799.3,774.6 1801.4,773.3 1803.5,771 1805.6,769.6 1807.7,767.1 1809.8,765.6 1811.9,763.1 1814,761.5 1816.1,758.8 1818.2,757.1 1820.2,754.3 1822.3,752.5 1824.4,749.7 1826.5,747.8 1828.6,744.8 1830.7,742.8 1832.8,739.8 1834.9,737.8 1837,734.7 1839.1,732.5 1841.2,729.4 1843.3,727.2 1845.3,723.9 1847.4,721.7 1849.5,718.4 1851.6,716.1 1853.7,712.7 1855.8,710.4 1857.9,707 1860,704.6 1862.1,701.2 1864.2,698.7 1866.3,695.3 1868.4,692.8 1870.4,689.4 1872.5,686.9 1874.6,683.4 1876.7,680.9 1878.8,677.4 1880.9,674.9 1883,671.4 1885.1,668.9 1887.2,665.4 1889.3,662.9 1891.4,659.4 1893.5,656.9 1895.5,653.5 1897.6,651 1899.7,647.6 1901.8,645.1 1903.9,641.7 1906,639.3 1908.1,635.9 1910.2,633.6 1912.3,630.3 1914.4,628 1916.5,624.7 1918.6,622.4 1920.6,619.2 1922.7,617 1924.8,613.8 1926.9,611.7 1929,608.6 1931.1,606.6 1933.2,603.6 1935.3,601.6 1937.4,598.7 1939.5,596.8 1941.6,593.9 1943.7,592.1 1945.7,589.4 1947.8,587.7 1949.9,585 1952,583.4 1954.1,580.9 1956.2,579.4 1958.3,576.9 1960.4,575.5 1962.5,573.2 1964.6,571.9 1966.7,569.7 1968.8,568.5 1970.8,566.5 1972.9,565.4 1975,563.4 1977.1,562.5 1979.2,560.7 1982,559.5" fill="none" stroke="#00f" stroke-width="9.33" stroke-linejoin="round" stroke-linecap="butt"/>
<path d="M238 360.7H1981" fill="none" stroke="#ff0" stroke-width="9.2" stroke-dasharray="26.8 24.6"/>
<path d="M238 1173.8H1981" fill="none" stroke="#ff0" stroke-width="9.2" stroke-dasharray="26.8 24.6"/>
</g>
<g>
<clipPath id="c1"><rect x="1068.1" y="814.1" width="903.1" height="341.4"/></clipPath>
<rect x="1070" y="816" width="899.3" height="337.6" fill="#fff" stroke="#232323" stroke-width="3.8"/>
<path d="M1200.4 1153.6v-11M1200.4 816v11M1330.7 1153.6v-11M1330.7 816v11M1461.1 1153.6v-11M1461.1 816v11M1591.4 1153.6v-11M1591.4 816v11M1721.8 1153.6v-11M1721.8 816v11M1852.2 1153.6v-11M1852.2 816v11M1070 1121.2h11M1969.3 1121.2h-11M1070 1047.4h11M1969.3 1047.4h-11M1070 973.6h11M1969.3 973.6h-11M1070 899.8h11M1969.3 899.8h-11M1070 826h11M1969.3 826h-11" fill="none" stroke="#232323" stroke-width="3.8"/>
<text transform="translate(1058.13 1206.60) scale(1 1.04)" font-size="42.67" fill="#232323" font-family='"Liberation Sans", sans-serif'>0</text>
<text transform="translate(1170.70 1206.60) scale(1 1.04)" font-size="42.67" fill="#232323" font-family='"Liberation Sans", sans-serif'>0.2</text>
<text transform="translate(1301.06 1206.60) scale(1 1.04)" font-size="42.67" fill="#232323" font-family='"Liberation Sans", sans-serif'>0.4</text>
<text transform="translate(1431.43 1206.60) scale(1 1.04)" font-size="42.67" fill="#232323" font-family='"Liberation Sans", sans-serif'>0.6</text>
<text transform="translate(1561.79 1206.60) scale(1 1.04)" font-size="42.67" fill="#232323" font-family='"Liberation Sans", sans-serif'>0.8</text>
<clipPath id="k5"><path clip-rule="evenodd" d="M-9 -42.7H32.7V17.1H-9ZM1.71 -4.69H10.73V4.3H1.71ZM14.50 -4.69H23.04V4.3H14.50Z"/></clipPath>
<text transform="translate(1709.94 1206.60) scale(1 1.04)" font-size="42.67" fill="#232323" font-family='"Liberation Sans", sans-serif' clip-path="url(#k5)">1</text>
<clipPath id="k6"><path clip-rule="evenodd" d="M-9 -42.7H68.3V17.1H-9ZM1.71 -4.69H10.73V4.3H1.71ZM14.50 -4.69H23.04V4.3H14.50Z"/></clipPath>
<text transform="translate(1822.51 1206.60) scale(1 1.04)" font-size="42.67" fill="#232323" font-family='"Liberation Sans", sans-serif' clip-path="url(#k6)">1.2</text>
<text transform="translate(1035.77 1139.50) scale(1 1.04)" font-size="42.67" fill="#232323" font-family='"Liberation Sans", sans-serif'>0</text>
<text transform="translate(1000.18 1065.69) scale(1 1.04)" font-size="42.67" fill="#232323" font-family='"Liberation Sans", sans-serif'>0.2</text>
<text transform="translate(1000.18 991.88) scale(1 1.04)" font-size="42.67" fill="#232323" font-family='"Liberation Sans", sans-serif'>0.4</text>
<text transform="translate(1000.18 918.07) scale(1 1.04)" font-size="42.67" fill="#232323" font-family='"Liberation Sans", sans-serif'>0.6</text>
<text transform="translate(1000.18 844.26) scale(1 1.04)" font-size="42.67" fill="#232323" font-family='"Liberation Sans", sans-serif'>0.8</text>
<g clip-path="url(#c1)">
<polyline points="1070,973.6 1077.8,972.7 1085.6,971.8 1093.5,970.9 1101.3,970 1109.1,969.2 1116.9,968.3 1124.8,967.4 1132.6,966.5 1140.4,965.7 1148.2,964.8 1156,964 1163.9,963.1 1171.7,962.3 1179.5,961.4 1187.3,960.6 1195.1,959.8 1203,958.9 1210.8,958.1 1218.6,957.3 1226.4,956.5 1234.3,955.8 1242.1,955 1249.9,954.2 1257.7,953.5 1265.5,952.7 1273.4,952 1281.2,951.3 1289,950.6 1296.8,949.9 1304.7,949.2 1312.5,948.6 1320.3,947.9 1328.1,947.3 1335.9,946.7 1343.8,946.1 1351.6,945.5 1359.4,945 1367.2,944.4 1375,943.9 1382.9,943.3 1390.7,942.9 1398.5,942.4 1406.3,941.9 1414.2,941.5 1422,941 1429.8,940.6 1437.6,940.2 1445.4,939.9 1453.3,939.5 1461.1,939.2 1468.9,938.9 1476.7,938.6 1484.6,938.3 1492.4,938.1 1500.2,937.8 1508,937.6 1515.8,937.4 1523.7,937.3 1531.5,937.1 1539.3,937 1547.1,936.9 1554.9,936.8 1562.8,936.7 1570.6,936.7 1578.4,936.7 1586.2,936.7 1594.1,936.7 1601.9,936.7 1609.7,936.8 1617.5,936.9 1625.3,937 1633.2,937.1 1641,937.3 1648.8,937.5 1656.6,937.6 1664.4,937.9 1672.3,938.1 1680.1,938.3 1687.9,938.6 1695.7,938.9 1703.6,939.2 1711.4,939.5 1719.2,939.9 1727,940.3 1734.8,940.7 1742.7,941.1 1750.5,941.5 1758.3,942 1766.1,942.4 1774,942.9 1781.8,943.4 1789.6,943.9 1797.4,944.5 1805.2,945 1813.1,945.6 1820.9,946.2 1828.7,946.8 1836.5,947.4 1844.3,948 1852.2,948.7 1860,949.3 1867.8,950 1875.6,950.7 1883.5,951.4 1891.3,952.1 1899.1,952.8 1906.9,953.6 1914.7,954.3 1922.6,955.1 1930.4,955.8 1938.2,956.6 1946,957.4 1953.9,958.2 1961.7,959 1969.5,959.8 1977.3,960.7" fill="none" stroke="#f00" stroke-width="4" stroke-linejoin="round"/>
<polyline points="1070,1077.4 1077.8,1076.1 1085.6,1070.1 1093.5,1062.4 1101.3,1055.2 1109.1,1046.3 1116.9,1036.9 1124.8,1027.6 1132.6,1017.8 1140.4,1009.5 1148.2,1001.9 1156,995.1 1163.9,988.9 1171.7,983.9 1179.5,979.2 1187.3,975 1195.1,971.2 1203,968.3 1210.8,965.8 1218.6,963.6 1226.4,961.7 1234.3,960 1242.1,958.5 1249.9,957.1 1257.7,955.8 1265.5,954.6 1273.4,953.6 1281.2,952.6 1289,951.7 1296.8,950.8 1304.7,950 1312.5,949.2 1320.3,948.4 1328.1,947.7 1335.9,947 1343.8,946.4 1351.6,945.7 1359.4,945.1 1367.2,944.5 1375,944 1382.9,943.4 1390.7,942.9 1398.5,942.4 1406.3,942 1414.2,941.5 1422,941.1 1429.8,940.7 1437.6,940.3 1445.4,939.9 1453.3,939.5 1461.1,939.2 1468.9,938.9 1476.7,938.6 1484.6,938.3 1492.4,938.1 1500.2,937.8 1508,937.6 1515.8,937.4 1523.7,937.3 1531.5,937.1 1539.3,937 1547.1,936.9 1554.9,936.8 1562.8,936.7 1570.6,936.7 1578.4,936.7 1586.2,936.7 1594.1,936.7 1601.9,936.7 1609.7,936.8 1617.5,936.9 1625.3,937 1633.2,937.1 1641,937.3 1648.8,937.5 1656.6,937.6 1664.4,937.9 1672.3,938.1 1680.1,938.3 1687.9,938.6 1695.7,938.9 1703.6,939.2 1711.4,939.6 1719.2,939.9 1727,940.3 1734.8,940.7 1742.7,941.1 1750.5,941.5 1758.3,942 1766.1,942.4 1774,942.9 1781.8,943.4 1789.6,943.9 1797.4,944.5 1805.2,945 1813.1,945.6 1820.9,946.2 1828.7,946.8 1836.5,947.4 1844.3,948 1852.2,948.7 1860,949.3 1867.8,950 1875.6,950.7 1883.5,951.4 1891.3,952.1 1899.1,952.8 1906.9,953.6 1914.7,954.3 1922.6,955.1 1930.4,955.8 1938.2,956.6 1946,957.4 1953.9,958.2 1961.7,959 1969.5,959.8 1977.3,960.7" fill="none" stroke="#0f0" stroke-width="4" stroke-linejoin="round"/>
<polyline points="1070,1077.4 1077.8,1153.3 1085.6,815.5 1093.5,1079.4 1101.3,897.4 1109.1,1017.2 1116.9,936.5 1124.8,989 1132.6,952.8 1140.4,975 1148.2,959.3 1156,969 1163.9,960.3 1171.7,965.2 1179.5,959.7 1187.3,962.7 1195.1,959.1 1203,960 1210.8,957.7 1218.6,957.9 1226.4,956.5 1234.3,955.8 1242.1,954.9 1249.9,954.3 1257.7,953.4 1265.5,952.8 1273.4,951.9 1281.2,951.4 1289,950.5 1296.8,950 1304.7,949.2 1312.5,948.7 1320.3,947.9 1328.1,947.4 1335.9,946.6 1343.8,946.2 1351.6,945.4 1359.4,945 1367.2,944.3 1375,943.9 1382.9,943.3 1390.7,942.9 1398.5,942.3 1406.3,942 1414.2,941.4 1422,941.1 1429.8,940.6 1437.6,940.3 1445.4,939.8 1453.3,939.6 1461.1,939.1 1468.9,938.9 1476.7,938.5 1484.6,938.4 1492.4,938 1500.2,937.9 1508,937.5 1515.8,937.5 1523.7,937.2 1531.5,937.2 1539.3,936.9 1547.1,937 1554.9,936.7 1562.8,936.8 1570.6,936.6 1578.4,936.8 1586.2,936.6 1594.1,936.8 1601.9,936.7 1609.7,936.9 1617.5,936.8 1625.3,937.1 1633.2,937.1 1641,937.4 1648.8,937.4 1656.6,937.7 1664.4,937.8 1672.3,938.2 1680.1,938.3 1687.9,938.7 1695.7,938.8 1703.6,939.3 1711.4,939.5 1719.2,940 1727,940.2 1734.8,940.7 1742.7,941 1750.5,941.6 1758.3,941.9 1766.1,942.5 1774,942.8 1781.8,943.5 1789.6,943.8 1797.4,944.5 1805.2,944.9 1813.1,945.6 1820.9,946.1 1828.7,946.8 1836.5,947.3 1844.3,948.1 1852.2,948.6 1860,949.4 1867.8,949.9 1875.6,950.7 1883.5,951.3 1891.3,952.2 1899.1,952.7 1906.9,953.6 1914.7,954.2 1922.6,955.1 1930.4,955.8 1938.2,956.7 1946,957.3 1953.9,958.3 1961.7,958.9 1969.5,959.9 1977.3,960.6" fill="none" stroke="#00f" stroke-width="4" stroke-linejoin="round"/>
<path d="M1070 936.7H1969.3" fill="none" stroke="#ff0" stroke-width="4"/>
<path d="M1070 1121.2H1969.3" fill="none" stroke="#ff0" stroke-width="4"/>
</g></g>
<g>
<rect x="1250.2" y="64.1" width="715.6" height="278.6" fill="#fff" stroke="#232323" stroke-width="4"/>
<path d="M1264.8 104.3H1427" fill="none" stroke="#f00" stroke-width="9.3"/>
<text x="1439.3" y="123" font-size="48" text-anchor="start" fill="#000" font-family='"Liberation Sans", sans-serif' textLength="347.6" lengthAdjust="spacing">Reference value</text>
<path d="M1264.8 170.5H1427" fill="none" stroke="#0f0" stroke-width="9.3"/>
<text x="1439.3" y="189.2" font-size="48" text-anchor="start" fill="#000" font-family='"Liberation Sans", sans-serif' textLength="330.3" lengthAdjust="spacing">ABLF controller</text>
<path d="M1264.8 236.6H1427" fill="none" stroke="#00f" stroke-width="9.3"/>
<text x="1439.3" y="255.3" font-size="48" text-anchor="start" fill="#000" font-family='"Liberation Sans", sans-serif' textLength="303.3" lengthAdjust="spacing">QLF controller</text>
<path d="M1264.8 303.2H1427" fill="none" stroke="#ff0" stroke-width="9.3" stroke-dasharray="26.8 24.9"/>
<text x="1439.3" y="321.9" font-size="48" text-anchor="start" fill="#000" font-family='"Liberation Sans", sans-serif' textLength="504.2" lengthAdjust="spacing">Throttle angle boundary</text>
</g>
<text y="1744.4" font-size="87" font-weight="bold" fill="#000" font-family='"Liberation Serif", serif'><tspan x="731.80" textLength="25.50" lengthAdjust="spacingAndGlyphs" font-weight="normal">(</tspan><tspan x="758.20" textLength="41.08" lengthAdjust="spacingAndGlyphs">a</tspan><tspan x="799.27" textLength="26.65" lengthAdjust="spacingAndGlyphs" font-weight="normal">)</tspan> <tspan x="848.64" textLength="309.00" lengthAdjust="spacingAndGlyphs">Throttle</tspan> <tspan x="1179.13" textLength="229.50" lengthAdjust="spacingAndGlyphs">angle.</tspan></text>
<g>
<rect x="239" y="1995" width="1743" height="1376" fill="#fff" stroke="#232323" stroke-width="4"/>
<path d="M413.3 3371v-19M413.3 1995v19M587.6 3371v-19M587.6 1995v19M761.9 3371v-19M761.9 1995v19M936.2 3371v-19M936.2 1995v19M1110.5 3371v-19M1110.5 1995v19M1284.8 3371v-19M1284.8 1995v19M1459.1 3371v-19M1459.1 1995v19M1633.4 3371v-19M1633.4 1995v19M1807.7 3371v-19M1807.7 1995v19M239 3245.9h19M1982 3245.9h-19M239 3120.8h19M1982 3120.8h-19M239 2995.7h19M1982 2995.7h-19M239 2870.6h19M1982 2870.6h-19M239 2745.5h19M1982 2745.5h-19M239 2620.5h19M1982 2620.5h-19M239 2495.4h19M1982 2495.4h-19M239 2370.3h19M1982 2370.3h-19M239 2245.2h19M1982 2245.2h-19M239 2120.1h19M1982 2120.1h-19" fill="none" stroke="#232323" stroke-width="4"/>
<text transform="translate(224.17 3446.20) scale(1 1.04)" font-size="53.33" fill="#232323" font-family='"Liberation Sans", sans-serif'>0</text>
<clipPath id="k7"><path clip-rule="evenodd" d="M-9 -53.3H38.7V21.3H-9ZM2.13 -5.48H13.41V5.3H2.13ZM18.12 -5.48H28.80V5.3H18.12Z"/></clipPath>
<text transform="translate(398.47 3446.20) scale(1 1.04)" font-size="53.33" fill="#232323" font-family='"Liberation Sans", sans-serif' clip-path="url(#k7)">1</text>
<text transform="translate(572.77 3446.20) scale(1 1.04)" font-size="53.33" fill="#232323" font-family='"Liberation Sans", sans-serif'>2</text>
<text transform="translate(747.07 3446.20) scale(1 1.04)" font-size="53.33" fill="#232323" font-family='"Liberation Sans", sans-serif'>3</text>
<text transform="translate(921.37 3446.20) scale(1 1.04)" font-size="53.33" fill="#232323" font-family='"Liberation Sans", sans-serif'>4</text>
<text transform="translate(1095.67 3446.20) scale(1 1.04)" font-size="53.33" fill="#232323" font-family='"Liberation Sans", sans-serif'>5</text>
<text transform="translate(1269.97 3446.20) scale(1 1.04)" font-size="53.33" fill="#232323" font-family='"Liberation Sans", sans-serif'>6</text>
<text transform="translate(1444.27 3446.20) scale(1 1.04)" font-size="53.33" fill="#232323" font-family='"Liberation Sans", sans-serif'>7</text>
<text transform="translate(1618.57 3446.20) scale(1 1.04)" font-size="53.33" fill="#232323" font-family='"Liberation Sans", sans-serif'>8</text>
<text transform="translate(1792.87 3446.20) scale(1 1.04)" font-size="53.33" fill="#232323" font-family='"Liberation Sans", sans-serif'>9</text>
<clipPath id="k8"><path clip-rule="evenodd" d="M-9 -53.3H68.3V21.3H-9ZM2.13 -5.48H13.41V5.3H2.13ZM18.12 -5.48H28.80V5.3H18.12Z"/></clipPath>
<text transform="translate(1952.34 3446.20) scale(1 1.04)" font-size="53.33" fill="#232323" font-family='"Liberation Sans", sans-serif' clip-path="url(#k8)">10</text>
<text transform="translate(123.60 3391.20) scale(1 1.04)" font-size="53.33" fill="#232323" font-family='"Liberation Sans", sans-serif'>-0.6</text>
<text transform="translate(123.60 3266.11) scale(1 1.04)" font-size="53.33" fill="#232323" font-family='"Liberation Sans", sans-serif'>-0.5</text>
<text transform="translate(123.60 3141.02) scale(1 1.04)" font-size="53.33" fill="#232323" font-family='"Liberation Sans", sans-serif'>-0.4</text>
<text transform="translate(123.60 3015.93) scale(1 1.04)" font-size="53.33" fill="#232323" font-family='"Liberation Sans", sans-serif'>-0.3</text>
<text transform="translate(123.60 2890.84) scale(1 1.04)" font-size="53.33" fill="#232323" font-family='"Liberation Sans", sans-serif'>-0.2</text>
<clipPath id="k9"><path clip-rule="evenodd" d="M-9 -53.3H100.9V21.3H-9ZM64.37 -5.48H75.65V5.3H64.37ZM80.36 -5.48H91.03V5.3H80.36Z"/></clipPath>
<text transform="translate(123.60 2765.75) scale(1 1.04)" font-size="53.33" fill="#232323" font-family='"Liberation Sans", sans-serif' clip-path="url(#k9)">-0.1</text>
<text transform="translate(185.84 2640.65) scale(1 1.04)" font-size="53.33" fill="#232323" font-family='"Liberation Sans", sans-serif'>0</text>
<clipPath id="k10"><path clip-rule="evenodd" d="M-9 -53.3H83.1V21.3H-9ZM46.61 -5.48H57.89V5.3H46.61ZM62.60 -5.48H73.27V5.3H62.60Z"/></clipPath>
<text transform="translate(141.36 2515.56) scale(1 1.04)" font-size="53.33" fill="#232323" font-family='"Liberation Sans", sans-serif' clip-path="url(#k10)">0.1</text>
<text transform="translate(141.36 2390.47) scale(1 1.04)" font-size="53.33" fill="#232323" font-family='"Liberation Sans", sans-serif'>0.2</text>
<text transform="translate(141.36 2265.38) scale(1 1.04)" font-size="53.33" fill="#232323" font-family='"Liberation Sans", sans-serif'>0.3</text>
<text transform="translate(141.36 2140.29) scale(1 1.04)" font-size="53.33" fill="#232323" font-family='"Liberation Sans", sans-serif'>0.4</text>
<text x="1111.1" y="3526" font-size="58.67" text-anchor="middle" fill="#232323" font-family='"Liberation Sans", sans-serif' textLength="182.2" lengthAdjust="spacing">time(s)</text>
<text transform="translate(93.5 2682.7) rotate(-90)" font-size="58.67" text-anchor="middle" fill="#232323" font-family='"Liberation Sans", sans-serif' textLength="492.0" lengthAdjust="spacing">Tracking error(rad)</text>
<polyline points="239,2972.3 241.1,2971 243.2,2953.7 245.3,2930.7 247.4,2909.2 249.5,2881.9 251.5,2853.1 253.6,2824.4 255.7,2794.3 257.8,2769.1 259.9,2746.2 262,2726 264.1,2708 266.2,2693.8 268.3,2680.7 270.4,2669.2 272.5,2659.2 274.6,2652.2 276.6,2646.5 278.7,2641.8 280.8,2637.9 282.9,2634.8 285,2632.2 287.1,2630.1 289.2,2628.3 291.3,2626.9 293.4,2625.7 295.5,2624.8 297.6,2624 299.7,2623.4 301.7,2622.8 303.8,2622.4 305.9,2622.1 308,2621.8 310.1,2621.5 312.2,2621.3 314.3,2621.2 316.4,2621 318.5,2620.9 320.6,2620.9 322.7,2620.8 324.8,2620.7 326.8,2620.7 328.9,2620.6 331,2620.6 333.1,2620.6 335.2,2620.6 337.3,2620.5 339.4,2620.5 341.5,2620.5 343.6,2620.5 345.7,2620.5 347.8,2620.5 349.9,2620.5 351.9,2620.5 354,2620.5 356.1,2620.5 358.2,2620.5 360.3,2620.5 362.4,2620.5 364.5,2620.5 366.6,2620.5 368.7,2620.5 370.8,2620.5 372.9,2620.5 375,2620.5 377,2620.5 379.1,2620.5 381.2,2620.5 383.3,2620.5 385.4,2620.5 387.5,2620.5 389.6,2620.5 391.7,2620.5 393.8,2620.5 395.9,2620.5 398,2620.5 400.1,2620.5 402.1,2620.5 404.2,2620.5 406.3,2620.5 408.4,2620.5 410.5,2620.5 412.6,2620.5 414.7,2620.5 416.8,2620.5 418.9,2620.5 421,2620.5 423.1,2620.5 425.2,2620.5 427.2,2620.5 429.3,2620.5 431.4,2620.5 433.5,2620.5 435.6,2620.5 437.7,2620.5 439.8,2620.5 441.9,2620.5 444,2620.5 446.1,2620.5 448.2,2620.5 450.3,2620.5 452.3,2620.5 454.4,2620.5 456.5,2620.5 458.6,2620.5 460.7,2620.5 462.8,2620.5 464.9,2620.5 467,2620.5 469.1,2620.5 471.2,2620.5 473.3,2620.5 475.4,2620.5 477.4,2620.5 479.5,2620.5 481.6,2620.5 483.7,2620.5 485.8,2620.5 487.9,2620.5 490,2620.5 492.1,2620.5 494.2,2620.5 496.3,2620.5 498.4,2620.5 500.5,2620.5 502.5,2620.5 504.6,2620.5 506.7,2620.5 508.8,2620.5 510.9,2620.5 513,2620.5 515.1,2620.5 517.2,2620.5 519.3,2620.5 521.4,2620.5 523.5,2620.5 525.5,2620.5 527.6,2620.5 529.7,2620.5 531.8,2620.5 533.9,2620.5 536,2620.5 538.1,2620.5 540.2,2620.5 542.3,2620.5 544.4,2620.5 546.5,2620.5 548.6,2620.5 550.6,2620.5 552.7,2620.5 554.8,2620.5 556.9,2620.5 559,2620.5 561.1,2620.5 563.2,2620.5 565.3,2620.5 567.4,2620.5 569.5,2620.5 571.6,2620.5 573.7,2620.5 575.7,2620.5 577.8,2620.5 579.9,2620.5 582,2620.5 584.1,2620.5 586.2,2620.5 588.3,2620.5 590.4,2620.5 592.5,2620.5 594.6,2620.5 596.7,2620.5 598.8,2620.5 600.8,2620.5 602.9,2620.5 605,2620.5 607.1,2620.5 609.2,2620.5 611.3,2620.5 613.4,2620.5 615.5,2620.5 617.6,2620.5 619.7,2620.5 621.8,2620.5 623.9,2620.5 625.9,2620.5 628,2620.5 630.1,2620.5 632.2,2620.5 634.3,2620.5 636.4,2620.5 638.5,2620.5 640.6,2620.5 642.7,2620.5 644.8,2620.5 646.9,2620.5 649,2620.5 651,2620.5 653.1,2620.5 655.2,2620.5 657.3,2620.5 659.4,2620.5 661.5,2620.5 663.6,2620.5 665.7,2620.5 667.8,2620.5 669.9,2620.5 672,2620.5 674.1,2620.5 676.1,2620.5 678.2,2620.5 680.3,2620.5 682.4,2620.5 684.5,2620.5 686.6,2620.5 688.7,2620.5 690.8,2620.5 692.9,2620.5 695,2620.5 697.1,2620.5 699.2,2620.5 701.2,2620.5 703.3,2620.5 705.4,2620.5 707.5,2620.5 709.6,2620.5 711.7,2620.5 713.8,2620.5 715.9,2620.5 718,2620.5 720.1,2620.5 722.2,2620.5 724.3,2620.5 726.3,2620.5 728.4,2620.5 730.5,2620.5 732.6,2620.5 734.7,2620.5 736.8,2620.5 738.9,2620.5 741,2620.5 743.1,2620.5 745.2,2620.5 747.3,2620.5 749.4,2620.5 751.4,2620.5 753.5,2620.5 755.6,2620.5 757.7,2620.5 759.8,2620.5 761.9,2620.5 764,2620.5 766.1,2620.5 768.2,2620.5 770.3,2620.5 772.4,2620.5 774.4,2620.5 776.5,2620.5 778.6,2620.5 780.7,2620.5 782.8,2620.5 784.9,2620.5 787,2620.5 789.1,2620.5 791.2,2620.5 793.3,2620.5 795.4,2620.5 797.5,2620.5 799.5,2620.5 801.6,2620.5 803.7,2620.5 805.8,2620.5 807.9,2620.5 810,2620.5 812.1,2620.5 814.2,2620.5 816.3,2620.5 818.4,2620.5 820.5,2620.5 822.6,2620.5 824.6,2620.5 826.7,2620.5 828.8,2620.5 830.9,2620.5 833,2620.5 835.1,2620.5 837.2,2620.5 839.3,2620.5 841.4,2620.5 843.5,2620.5 845.6,2620.5 847.7,2620.5 849.7,2620.5 851.8,2620.5 853.9,2620.5 856,2620.5 858.1,2620.5 860.2,2620.5 862.3,2620.5 864.4,2620.5 866.5,2620.5 868.6,2620.5 870.7,2620.5 872.8,2620.5 874.8,2620.5 876.9,2620.5 879,2620.5 881.1,2620.5 883.2,2620.5 885.3,2620.5 887.4,2620.5 889.5,2620.5 891.6,2620.5 893.7,2620.5 895.8,2620.5 897.9,2620.5 899.9,2620.5 902,2620.5 904.1,2620.5 906.2,2620.5 908.3,2620.5 910.4,2620.5 912.5,2620.5 914.6,2620.5 916.7,2620.5 918.8,2620.5 920.9,2620.5 923,2620.5 925,2620.5 927.1,2620.5 929.2,2620.5 931.3,2620.5 933.4,2620.5 935.5,2620.5 937.6,2620.5 939.7,2620.5 941.8,2620.5 943.9,2620.5 946,2620.5 948.1,2620.5 950.1,2620.5 952.2,2620.5 954.3,2620.5 956.4,2620.5 958.5,2620.5 960.6,2620.5 962.7,2620.5 964.8,2620.5 966.9,2620.5 969,2620.5 971.1,2620.5 973.2,2620.5 975.2,2620.5 977.3,2620.5 979.4,2620.5 981.5,2620.5 983.6,2620.5 985.7,2620.5 987.8,2620.5 989.9,2620.5 992,2620.5 994.1,2620.5 996.2,2620.5 998.3,2620.5 1000.3,2620.5 1002.4,2620.5 1004.5,2620.5 1006.6,2620.5 1008.7,2620.5 1010.8,2620.5 1012.9,2620.5 1015,2620.5 1017.1,2620.5 1019.2,2620.5 1021.3,2620.5 1023.4,2620.5 1025.4,2620.5 1027.5,2620.5 1029.6,2620.5 1031.7,2620.5 1033.8,2620.5 1035.9,2620.5 1038,2620.5 1040.1,2620.5 1042.2,2620.5 1044.3,2620.5 1046.4,2620.5 1048.4,2620.5 1050.5,2620.5 1052.6,2620.5 1054.7,2620.5 1056.8,2620.5 1058.9,2620.5 1061,2620.5 1063.1,2620.5 1065.2,2620.5 1067.3,2620.5 1069.4,2620.5 1071.5,2620.5 1073.5,2620.5 1075.6,2620.5 1077.7,2620.5 1079.8,2620.5 1081.9,2620.5 1084,2620.5 1086.1,2620.5 1088.2,2620.5 1090.3,2620.5 1092.4,2620.5 1094.5,2620.5 1096.6,2620.5 1098.6,2620.5 1100.7,2620.5 1102.8,2620.5 1104.9,2620.5 1107,2620.5 1109.1,2620.5 1111.2,2620.5 1113.3,2620.5 1115.4,2620.5 1117.5,2620.5 1119.6,2620.5 1121.7,2620.5 1123.7,2620.5 1125.8,2620.5 1127.9,2620.5 1130,2620.5 1132.1,2620.5 1134.2,2620.5 1136.3,2620.5 1138.4,2620.5 1140.5,2620.5 1142.6,2620.5 1144.7,2620.5 1146.8,2620.5 1148.8,2620.5 1150.9,2620.5 1153,2620.5 1155.1,2620.5 1157.2,2620.5 1159.3,2620.5 1161.4,2620.5 1163.5,2620.5 1165.6,2620.5 1167.7,2620.5 1169.8,2620.5 1171.9,2620.5 1173.9,2620.5 1176,2620.5 1178.1,2620.5 1180.2,2620.5 1182.3,2620.5 1184.4,2620.5 1186.5,2620.5 1188.6,2620.5 1190.7,2620.5 1192.8,2620.5 1194.9,2620.5 1197,2620.5 1199,2620.5 1201.1,2620.5 1203.2,2620.5 1205.3,2620.5 1207.4,2620.5 1209.5,2620.5 1211.6,2620.5 1213.7,2620.5 1215.8,2620.5 1217.9,2620.5 1220,2620.5 1222.1,2620.5 1224.1,2620.5 1226.2,2620.5 1228.3,2620.5 1230.4,2620.5 1232.5,2620.5 1234.6,2620.5 1236.7,2620.5 1238.8,2620.5 1240.9,2620.5 1243,2620.5 1245.1,2620.5 1247.2,2620.5 1249.2,2620.5 1251.3,2620.5 1253.4,2620.5 1255.5,2620.5 1257.6,2620.5 1259.7,2620.5 1261.8,2620.5 1263.9,2620.5 1266,2620.5 1268.1,2620.5 1270.2,2620.5 1272.3,2620.5 1274.3,2620.5 1276.4,2620.5 1278.5,2620.5 1280.6,2620.5 1282.7,2620.5 1284.8,2620.5 1286.9,2620.5 1289,2620.5 1291.1,2620.5 1293.2,2620.5 1295.3,2620.5 1297.3,2620.5 1299.4,2620.5 1301.5,2620.5 1303.6,2620.5 1305.7,2620.5 1307.8,2620.5 1309.9,2620.5 1312,2620.5 1314.1,2620.5 1316.2,2620.5 1318.3,2620.5 1320.4,2620.5 1322.4,2620.5 1324.5,2620.5 1326.6,2620.5 1328.7,2620.5 1330.8,2620.5 1332.9,2620.5 1335,2620.5 1337.1,2620.5 1339.2,2620.5 1341.3,2620.5 1343.4,2620.5 1345.5,2620.5 1347.5,2620.5 1349.6,2620.5 1351.7,2620.5 1353.8,2620.5 1355.9,2620.5 1358,2620.5 1360.1,2620.5 1362.2,2620.5 1364.3,2620.5 1366.4,2620.5 1368.5,2620.5 1370.6,2620.5 1372.6,2620.5 1374.7,2620.5 1376.8,2620.5 1378.9,2620.5 1381,2620.5 1383.1,2620.5 1385.2,2620.5 1387.3,2620.5 1389.4,2620.5 1391.5,2620.5 1393.6,2620.5 1395.7,2620.5 1397.7,2620.5 1399.8,2620.5 1401.9,2620.5 1404,2620.5 1406.1,2620.5 1408.2,2620.5 1410.3,2620.5 1412.4,2620.5 1414.5,2620.5 1416.6,2620.5 1418.7,2620.5 1420.8,2620.5 1422.8,2620.5 1424.9,2620.5 1427,2620.5 1429.1,2620.5 1431.2,2620.5 1433.3,2620.5 1435.4,2620.5 1437.5,2620.5 1439.6,2620.5 1441.7,2620.5 1443.8,2620.5 1445.9,2620.5 1447.9,2620.5 1450,2620.5 1452.1,2620.5 1454.2,2620.5 1456.3,2620.5 1458.4,2620.5 1460.5,2620.5 1462.6,2620.5 1464.7,2620.5 1466.8,2620.5 1468.9,2620.5 1471,2620.5 1473,2620.5 1475.1,2620.5 1477.2,2620.5 1479.3,2620.5 1481.4,2620.5 1483.5,2620.5 1485.6,2620.5 1487.7,2620.5 1489.8,2620.5 1491.9,2620.5 1494,2620.5 1496.1,2620.5 1498.1,2620.5 1500.2,2620.5 1502.3,2620.5 1504.4,2620.5 1506.5,2620.5 1508.6,2620.5 1510.7,2620.5 1512.8,2620.5 1514.9,2620.5 1517,2620.5 1519.1,2620.5 1521.2,2620.5 1523.2,2620.5 1525.3,2620.5 1527.4,2620.5 1529.5,2620.5 1531.6,2620.5 1533.7,2620.5 1535.8,2620.5 1537.9,2620.5 1540,2620.5 1542.1,2620.5 1544.2,2620.5 1546.2,2620.5 1548.3,2620.5 1550.4,2620.5 1552.5,2620.5 1554.6,2620.5 1556.7,2620.5 1558.8,2620.5 1560.9,2620.5 1563,2620.5 1565.1,2620.5 1567.2,2620.5 1569.3,2620.5 1571.3,2620.5 1573.4,2620.5 1575.5,2620.5 1577.6,2620.5 1579.7,2620.5 1581.8,2620.5 1583.9,2620.5 1586,2620.5 1588.1,2620.5 1590.2,2620.5 1592.3,2620.5 1594.4,2620.5 1596.4,2620.5 1598.5,2620.5 1600.6,2620.5 1602.7,2620.5 1604.8,2620.5 1606.9,2620.5 1609,2620.5 1611.1,2620.5 1613.2,2620.5 1615.3,2620.5 1617.4,2620.5 1619.5,2620.5 1621.5,2620.5 1623.6,2620.5 1625.7,2620.5 1627.8,2620.5 1629.9,2620.5 1632,2620.5 1634.1,2620.5 1636.2,2620.5 1638.3,2620.5 1640.4,2620.5 1642.5,2620.5 1644.6,2620.5 1646.6,2620.5 1648.7,2620.5 1650.8,2620.5 1652.9,2620.5 1655,2620.5 1657.1,2620.5 1659.2,2620.5 1661.3,2620.5 1663.4,2620.5 1665.5,2620.5 1667.6,2620.5 1669.7,2620.5 1671.7,2620.5 1673.8,2620.5 1675.9,2620.5 1678,2620.5 1680.1,2620.5 1682.2,2620.5 1684.3,2620.5 1686.4,2620.5 1688.5,2620.5 1690.6,2620.5 1692.7,2620.5 1694.8,2620.5 1696.8,2620.5 1698.9,2620.5 1701,2620.5 1703.1,2620.5 1705.2,2620.5 1707.3,2620.5 1709.4,2620.5 1711.5,2620.5 1713.6,2620.5 1715.7,2620.5 1717.8,2620.5 1719.9,2620.5 1721.9,2620.5 1724,2620.5 1726.1,2620.5 1728.2,2620.5 1730.3,2620.5 1732.4,2620.5 1734.5,2620.5 1736.6,2620.5 1738.7,2620.5 1740.8,2620.5 1742.9,2620.5 1745,2620.5 1747,2620.5 1749.1,2620.5 1751.2,2620.5 1753.3,2620.5 1755.4,2620.5 1757.5,2620.5 1759.6,2620.5 1761.7,2620.5 1763.8,2620.5 1765.9,2620.5 1768,2620.5 1770.1,2620.5 1772.1,2620.5 1774.2,2620.5 1776.3,2620.5 1778.4,2620.5 1780.5,2620.5 1782.6,2620.5 1784.7,2620.5 1786.8,2620.5 1788.9,2620.5 1791,2620.5 1793.1,2620.5 1795.2,2620.5 1797.2,2620.5 1799.3,2620.5 1801.4,2620.5 1803.5,2620.5 1805.6,2620.5 1807.7,2620.5 1809.8,2620.5 1811.9,2620.5 1814,2620.5 1816.1,2620.5 1818.2,2620.5 1820.2,2620.5 1822.3,2620.5 1824.4,2620.5 1826.5,2620.5 1828.6,2620.5 1830.7,2620.5 1832.8,2620.5 1834.9,2620.5 1837,2620.5 1839.1,2620.5 1841.2,2620.5 1843.3,2620.5 1845.3,2620.5 1847.4,2620.5 1849.5,2620.5 1851.6,2620.5 1853.7,2620.5 1855.8,2620.5 1857.9,2620.5 1860,2620.5 1862.1,2620.5 1864.2,2620.5 1866.3,2620.5 1868.4,2620.5 1870.4,2620.5 1872.5,2620.5 1874.6,2620.5 1876.7,2620.5 1878.8,2620.5 1880.9,2620.5 1883,2620.5 1885.1,2620.5 1887.2,2620.5 1889.3,2620.5 1891.4,2620.5 1893.5,2620.5 1895.5,2620.5 1897.6,2620.5 1899.7,2620.5 1901.8,2620.5 1903.9,2620.5 1906,2620.5 1908.1,2620.5 1910.2,2620.5 1912.3,2620.5 1914.4,2620.5 1916.5,2620.5 1918.6,2620.5 1920.6,2620.5 1922.7,2620.5 1924.8,2620.5 1926.9,2620.5 1929,2620.5 1931.1,2620.5 1933.2,2620.5 1935.3,2620.5 1937.4,2620.5 1939.5,2620.5 1941.6,2620.5 1943.7,2620.5 1945.7,2620.5 1947.8,2620.5 1949.9,2620.5 1952,2620.5 1954.1,2620.5 1956.2,2620.5 1958.3,2620.5 1960.4,2620.5 1962.5,2620.5 1964.6,2620.5 1966.7,2620.5 1968.8,2620.5 1970.8,2620.5 1972.9,2620.5 1975,2620.5 1977.1,2620.5 1979.2,2620.5 1982,2620.5" fill="none" stroke="#0f0" stroke-width="9.33" stroke-linejoin="round" stroke-linecap="butt"/>
<polyline points="239,2972.3 241.1,3232.5 243.2,2090.7 245.3,2988.1 247.4,2374.2 249.5,2783.4 251.5,2512.8 253.6,2693.8 255.7,2573.8 257.8,2652.1 259.9,2601.8 262,2637.7 264.1,2611.1 266.2,2630.5 268.3,2614.7 270.4,2627.6 272.5,2618.3 274.6,2624.2 276.6,2619 278.7,2622.3 280.8,2619.6 282.9,2621.3 285,2619.6 287.1,2621.3 289.2,2619.6 291.3,2621.3 293.4,2619.6 295.5,2621.3 297.6,2619.6 299.7,2621.3 301.7,2619.6 303.8,2621.3 305.9,2619.6 308,2621.3 310.1,2619.6 312.2,2621.3 314.3,2619.6 316.4,2621.3 318.5,2619.6 320.6,2621.3 322.7,2619.6 324.8,2621.3 326.8,2619.6 328.9,2621.3 331,2619.6 333.1,2621.3 335.2,2619.6 337.3,2621.3 339.4,2619.6 341.5,2621.3 343.6,2619.6 345.7,2621.3 347.8,2619.6 349.9,2621.3 351.9,2619.6 354,2621.3 356.1,2619.6 358.2,2621.3 360.3,2619.6 362.4,2621.3 364.5,2619.6 366.6,2621.3 368.7,2619.6 370.8,2621.3 372.9,2619.6 375,2621.3 377,2619.6 379.1,2621.3 381.2,2619.6 383.3,2621.3 385.4,2619.6 387.5,2621.3 389.6,2619.6 391.7,2621.3 393.8,2619.6 395.9,2621.3 398,2619.6 400.1,2621.3 402.1,2619.6 404.2,2621.3 406.3,2619.6 408.4,2621.3 410.5,2619.6 412.6,2621.3 414.7,2619.6 416.8,2621.3 418.9,2619.6 421,2621.3 423.1,2619.6 425.2,2621.3 427.2,2619.6 429.3,2621.3 431.4,2619.6 433.5,2621.3 435.6,2619.6 437.7,2621.3 439.8,2619.6 441.9,2621.3 444,2619.6 446.1,2621.3 448.2,2619.6 450.3,2621.3 452.3,2619.6 454.4,2621.3 456.5,2619.6 458.6,2621.3 460.7,2619.6 462.8,2621.3 464.9,2619.6 467,2621.3 469.1,2619.6 471.2,2621.3 473.3,2619.6 475.4,2621.3 477.4,2619.6 479.5,2621.3 481.6,2619.6 483.7,2621.3 485.8,2619.6 487.9,2621.3 490,2619.6 492.1,2621.3 494.2,2619.6 496.3,2621.3 498.4,2619.6 500.5,2621.3 502.5,2619.6 504.6,2621.3 506.7,2619.6 508.8,2621.3 510.9,2619.6 513,2621.3 515.1,2619.6 517.2,2621.3 519.3,2619.6 521.4,2621.3 523.5,2619.6 525.5,2621.3 527.6,2619.6 529.7,2621.3 531.8,2619.6 533.9,2621.3 536,2619.6 538.1,2621.3 540.2,2619.6 542.3,2621.3 544.4,2619.6 546.5,2621.3 548.6,2619.6 550.6,2621.3 552.7,2619.6 554.8,2621.3 556.9,2619.6 559,2621.3 561.1,2619.6 563.2,2621.3 565.3,2619.6 567.4,2621.3 569.5,2619.6 571.6,2621.3 573.7,2619.6 575.7,2621.3 577.8,2619.6 579.9,2621.3 582,2619.6 584.1,2621.3 586.2,2619.6 588.3,2621.3 590.4,2619.6 592.5,2621.3 594.6,2619.6 596.7,2621.3 598.8,2619.6 600.8,2621.3 602.9,2619.6 605,2621.3 607.1,2619.6 609.2,2621.3 611.3,2619.6 613.4,2621.3 615.5,2619.6 617.6,2621.3 619.7,2619.6 621.8,2621.3 623.9,2619.6 625.9,2621.3 628,2619.6 630.1,2621.3 632.2,2619.6 634.3,2621.3 636.4,2619.6 638.5,2621.3 640.6,2619.6 642.7,2621.3 644.8,2619.6 646.9,2621.3 649,2619.6 651,2621.3 653.1,2619.6 655.2,2621.3 657.3,2619.6 659.4,2621.3 661.5,2619.6 663.6,2621.3 665.7,2619.6 667.8,2621.3 669.9,2619.6 672,2621.3 674.1,2619.6 676.1,2621.3 678.2,2619.6 680.3,2621.3 682.4,2619.6 684.5,2621.3 686.6,2619.6 688.7,2621.3 690.8,2619.6 692.9,2621.3 695,2619.6 697.1,2621.3 699.2,2619.6 701.2,2621.3 703.3,2619.6 705.4,2621.3 707.5,2619.6 709.6,2621.3 711.7,2619.6 713.8,2621.3 715.9,2619.6 718,2621.3 720.1,2619.6 722.2,2621.3 724.3,2619.6 726.3,2621.3 728.4,2619.6 730.5,2621.3 732.6,2619.6 734.7,2621.3 736.8,2619.6 738.9,2621.3 741,2619.6 743.1,2621.3 745.2,2619.6 747.3,2621.3 749.4,2619.6 751.4,2621.3 753.5,2619.6 755.6,2621.3 757.7,2619.6 759.8,2621.3 761.9,2619.6 764,2621.3 766.1,2619.6 768.2,2621.3 770.3,2619.6 772.4,2621.3 774.4,2619.6 776.5,2621.3 778.6,2619.6 780.7,2621.3 782.8,2619.6 784.9,2621.3 787,2619.6 789.1,2621.3 791.2,2619.6 793.3,2621.3 795.4,2619.6 797.5,2621.3 799.5,2619.6 801.6,2621.3 803.7,2619.6 805.8,2621.3 807.9,2619.6 810,2621.3 812.1,2619.6 814.2,2621.3 816.3,2619.6 818.4,2621.3 820.5,2619.6 822.6,2621.3 824.6,2619.6 826.7,2621.3 828.8,2619.6 830.9,2621.3 833,2619.6 835.1,2621.3 837.2,2619.6 839.3,2621.3 841.4,2619.6 843.5,2621.3 845.6,2619.6 847.7,2621.3 849.7,2619.6 851.8,2621.3 853.9,2619.6 856,2621.3 858.1,2619.6 860.2,2621.3 862.3,2619.6 864.4,2621.3 866.5,2619.6 868.6,2621.3 870.7,2619.6 872.8,2621.3 874.8,2619.6 876.9,2621.3 879,2619.6 881.1,2621.3 883.2,2619.6 885.3,2621.3 887.4,2619.6 889.5,2621.3 891.6,2619.6 893.7,2621.3 895.8,2619.6 897.9,2621.3 899.9,2619.6 902,2621.3 904.1,2619.6 906.2,2621.3 908.3,2619.6 910.4,2621.3 912.5,2619.6 914.6,2621.3 916.7,2619.6 918.8,2621.3 920.9,2619.6 923,2621.3 925,2619.6 927.1,2621.3 929.2,2619.6 931.3,2621.3 933.4,2619.6 935.5,2621.3 937.6,2619.6 939.7,2621.3 941.8,2619.6 943.9,2621.3 946,2619.6 948.1,2621.3 950.1,2619.6 952.2,2621.3 954.3,2619.6 956.4,2621.3 958.5,2619.6 960.6,2621.3 962.7,2619.6 964.8,2621.3 966.9,2619.6 969,2621.3 971.1,2619.6 973.2,2621.3 975.2,2619.6 977.3,2621.3 979.4,2619.6 981.5,2621.3 983.6,2619.6 985.7,2621.3 987.8,2619.6 989.9,2621.3 992,2619.6 994.1,2621.3 996.2,2619.6 998.3,2621.3 1000.3,2619.6 1002.4,2621.3 1004.5,2619.6 1006.6,2621.3 1008.7,2619.6 1010.8,2621.3 1012.9,2619.6 1015,2621.3 1017.1,2619.6 1019.2,2621.3 1021.3,2619.6 1023.4,2621.3 1025.4,2619.6 1027.5,2621.3 1029.6,2619.6 1031.7,2621.3 1033.8,2619.6 1035.9,2621.3 1038,2619.6 1040.1,2621.3 1042.2,2619.6 1044.3,2621.3 1046.4,2619.6 1048.4,2621.3 1050.5,2619.6 1052.6,2621.3 1054.7,2619.6 1056.8,2621.3 1058.9,2619.6 1061,2621.3 1063.1,2619.6 1065.2,2621.3 1067.3,2619.6 1069.4,2621.3 1071.5,2619.6 1073.5,2621.3 1075.6,2619.6 1077.7,2621.3 1079.8,2619.6 1081.9,2621.3 1084,2619.6 1086.1,2621.3 1088.2,2619.6 1090.3,2621.3 1092.4,2619.6 1094.5,2621.3 1096.6,2619.6 1098.6,2621.3 1100.7,2619.6 1102.8,2621.3 1104.9,2619.6 1107,2621.3 1109.1,2619.6 1111.2,2621.3 1113.3,2619.6 1115.4,2621.3 1117.5,2619.6 1119.6,2621.3 1121.7,2619.6 1123.7,2621.3 1125.8,2619.6 1127.9,2621.3 1130,2619.6 1132.1,2621.3 1134.2,2619.6 1136.3,2621.3 1138.4,2619.6 1140.5,2621.3 1142.6,2619.6 1144.7,2621.3 1146.8,2619.6 1148.8,2621.3 1150.9,2619.6 1153,2621.3 1155.1,2619.6 1157.2,2621.3 1159.3,2619.6 1161.4,2621.3 1163.5,2619.6 1165.6,2621.3 1167.7,2619.6 1169.8,2621.3 1171.9,2619.6 1173.9,2621.3 1176,2619.6 1178.1,2621.3 1180.2,2619.6 1182.3,2621.3 1184.4,2619.6 1186.5,2621.3 1188.6,2619.6 1190.7,2621.3 1192.8,2619.6 1194.9,2621.3 1197,2619.6 1199,2621.3 1201.1,2619.6 1203.2,2621.3 1205.3,2619.6 1207.4,2621.3 1209.5,2619.6 1211.6,2621.3 1213.7,2619.6 1215.8,2621.3 1217.9,2619.6 1220,2621.3 1222.1,2619.6 1224.1,2621.3 1226.2,2619.6 1228.3,2621.3 1230.4,2619.6 1232.5,2621.3 1234.6,2619.6 1236.7,2621.3 1238.8,2619.6 1240.9,2621.3 1243,2619.6 1245.1,2621.3 1247.2,2619.6 1249.2,2621.3 1251.3,2619.6 1253.4,2621.3 1255.5,2619.6 1257.6,2621.3 1259.7,2619.6 1261.8,2621.3 1263.9,2619.6 1266,2621.3 1268.1,2619.6 1270.2,2621.3 1272.3,2619.6 1274.3,2621.3 1276.4,2619.6 1278.5,2621.3 1280.6,2619.6 1282.7,2621.3 1284.8,2619.6 1286.9,2621.3 1289,2619.6 1291.1,2621.3 1293.2,2619.6 1295.3,2621.3 1297.3,2619.6 1299.4,2621.3 1301.5,2619.6 1303.6,2621.3 1305.7,2619.6 1307.8,2621.3 1309.9,2619.6 1312,2621.3 1314.1,2619.6 1316.2,2621.3 1318.3,2619.6 1320.4,2621.3 1322.4,2619.6 1324.5,2621.3 1326.6,2619.6 1328.7,2621.3 1330.8,2619.6 1332.9,2621.3 1335,2619.6 1337.1,2621.3 1339.2,2619.6 1341.3,2621.3 1343.4,2619.6 1345.5,2621.3 1347.5,2619.6 1349.6,2621.3 1351.7,2619.6 1353.8,2621.3 1355.9,2619.6 1358,2621.3 1360.1,2619.6 1362.2,2621.3 1364.3,2619.6 1366.4,2621.3 1368.5,2619.6 1370.6,2621.3 1372.6,2619.6 1374.7,2621.3 1376.8,2619.6 1378.9,2621.3 1381,2619.6 1383.1,2621.3 1385.2,2619.6 1387.3,2621.3 1389.4,2619.6 1391.5,2621.3 1393.6,2619.6 1395.7,2621.3 1397.7,2619.6 1399.8,2621.3 1401.9,2619.6 1404,2621.3 1406.1,2619.6 1408.2,2621.3 1410.3,2619.6 1412.4,2621.3 1414.5,2619.6 1416.6,2621.3 1418.7,2619.6 1420.8,2621.3 1422.8,2619.6 1424.9,2621.3 1427,2619.6 1429.1,2621.3 1431.2,2619.6 1433.3,2621.3 1435.4,2619.6 1437.5,2621.3 1439.6,2619.6 1441.7,2621.3 1443.8,2619.6 1445.9,2621.3 1447.9,2619.6 1450,2621.3 1452.1,2619.6 1454.2,2621.3 1456.3,2619.6 1458.4,2621.3 1460.5,2619.6 1462.6,2621.3 1464.7,2619.6 1466.8,2621.3 1468.9,2619.6 1471,2621.3 1473,2619.6 1475.1,2621.3 1477.2,2619.6 1479.3,2621.3 1481.4,2619.6 1483.5,2621.3 1485.6,2619.6 1487.7,2621.3 1489.8,2619.6 1491.9,2621.3 1494,2619.6 1496.1,2621.3 1498.1,2619.6 1500.2,2621.3 1502.3,2619.6 1504.4,2621.3 1506.5,2619.6 1508.6,2621.3 1510.7,2619.6 1512.8,2621.3 1514.9,2619.6 1517,2621.3 1519.1,2619.6 1521.2,2621.3 1523.2,2619.6 1525.3,2621.3 1527.4,2619.6 1529.5,2621.3 1531.6,2619.6 1533.7,2621.3 1535.8,2619.6 1537.9,2621.3 1540,2619.6 1542.1,2621.3 1544.2,2619.6 1546.2,2621.3 1548.3,2619.6 1550.4,2621.3 1552.5,2619.6 1554.6,2621.3 1556.7,2619.6 1558.8,2621.3 1560.9,2619.6 1563,2621.3 1565.1,2619.6 1567.2,2621.3 1569.3,2619.6 1571.3,2621.3 1573.4,2619.6 1575.5,2621.3 1577.6,2619.6 1579.7,2621.3 1581.8,2619.6 1583.9,2621.3 1586,2619.6 1588.1,2621.3 1590.2,2619.6 1592.3,2621.3 1594.4,2619.6 1596.4,2621.3 1598.5,2619.6 1600.6,2621.3 1602.7,2619.6 1604.8,2621.3 1606.9,2619.6 1609,2621.3 1611.1,2619.6 1613.2,2621.3 1615.3,2619.6 1617.4,2621.3 1619.5,2619.6 1621.5,2621.3 1623.6,2619.6 1625.7,2621.3 1627.8,2619.6 1629.9,2621.3 1632,2619.6 1634.1,2621.3 1636.2,2619.6 1638.3,2621.3 1640.4,2619.6 1642.5,2621.3 1644.6,2619.6 1646.6,2621.3 1648.7,2619.6 1650.8,2621.3 1652.9,2619.6 1655,2621.3 1657.1,2619.6 1659.2,2621.3 1661.3,2619.6 1663.4,2621.3 1665.5,2619.6 1667.6,2621.3 1669.7,2619.6 1671.7,2621.3 1673.8,2619.6 1675.9,2621.3 1678,2619.6 1680.1,2621.3 1682.2,2619.6 1684.3,2621.3 1686.4,2619.6 1688.5,2621.3 1690.6,2619.6 1692.7,2621.3 1694.8,2619.6 1696.8,2621.3 1698.9,2619.6 1701,2621.3 1703.1,2619.6 1705.2,2621.3 1707.3,2619.6 1709.4,2621.3 1711.5,2619.6 1713.6,2621.3 1715.7,2619.6 1717.8,2621.3 1719.9,2619.6 1721.9,2621.3 1724,2619.6 1726.1,2621.3 1728.2,2619.6 1730.3,2621.3 1732.4,2619.6 1734.5,2621.3 1736.6,2619.6 1738.7,2621.3 1740.8,2619.6 1742.9,2621.3 1745,2619.6 1747,2621.3 1749.1,2619.6 1751.2,2621.3 1753.3,2619.6 1755.4,2621.3 1757.5,2619.6 1759.6,2621.3 1761.7,2619.6 1763.8,2621.3 1765.9,2619.6 1768,2621.3 1770.1,2619.6 1772.1,2621.3 1774.2,2619.6 1776.3,2621.3 1778.4,2619.6 1780.5,2621.3 1782.6,2619.6 1784.7,2621.3 1786.8,2619.6 1788.9,2621.3 1791,2619.6 1793.1,2621.3 1795.2,2619.6 1797.2,2621.3 1799.3,2619.6 1801.4,2621.3 1803.5,2619.6 1805.6,2621.3 1807.7,2619.6 1809.8,2621.3 1811.9,2619.6 1814,2621.3 1816.1,2619.6 1818.2,2621.3 1820.2,2619.6 1822.3,2621.3 1824.4,2619.6 1826.5,2621.3 1828.6,2619.6 1830.7,2621.3 1832.8,2619.6 1834.9,2621.3 1837,2619.6 1839.1,2621.3 1841.2,2619.6 1843.3,2621.3 1845.3,2619.6 1847.4,2621.3 1849.5,2619.6 1851.6,2621.3 1853.7,2619.6 1855.8,2621.3 1857.9,2619.6 1860,2621.3 1862.1,2619.6 1864.2,2621.3 1866.3,2619.6 1868.4,2621.3 1870.4,2619.6 1872.5,2621.3 1874.6,2619.6 1876.7,2621.3 1878.8,2619.6 1880.9,2621.3 1883,2619.6 1885.1,2621.3 1887.2,2619.6 1889.3,2621.3 1891.4,2619.6 1893.5,2621.3 1895.5,2619.6 1897.6,2621.3 1899.7,2619.6 1901.8,2621.3 1903.9,2619.6 1906,2621.3 1908.1,2619.6 1910.2,2621.3 1912.3,2619.6 1914.4,2621.3 1916.5,2619.6 1918.6,2621.3 1920.6,2619.6 1922.7,2621.3 1924.8,2619.6 1926.9,2621.3 1929,2619.6 1931.1,2621.3 1933.2,2619.6 1935.3,2621.3 1937.4,2619.6 1939.5,2621.3 1941.6,2619.6 1943.7,2621.3 1945.7,2619.6 1947.8,2621.3 1949.9,2619.6 1952,2621.3 1954.1,2619.6 1956.2,2621.3 1958.3,2619.6 1960.4,2621.3 1962.5,2619.6 1964.6,2621.3 1966.7,2619.6 1968.8,2621.3 1970.8,2619.6 1972.9,2621.3 1975,2619.6 1977.1,2621.3 1979.2,2619.6 1982,2621.3" fill="none" stroke="#00f" stroke-width="9.33" stroke-linejoin="round" stroke-linecap="butt"/>
<path d="M238 2432.8H1981" fill="none" stroke="#ff0" stroke-width="9.2" stroke-dasharray="26.8 24.6"/>
<path d="M238 2995.7H1981" fill="none" stroke="#ff0" stroke-width="9.2" stroke-dasharray="26.8 24.6"/>
</g>
<g>
<clipPath id="c2"><rect x="1046" y="2642.9" width="902.5" height="340.5"/></clipPath>
<rect x="1047.5" y="2644.5" width="899.4" height="337.4" fill="#fff" stroke="#232323" stroke-width="3.1"/>
<path d="M1197.4 2981.9v-11M1197.4 2644.5v11M1347.3 2981.9v-11M1347.3 2644.5v11M1497.2 2981.9v-11M1497.2 2644.5v11M1647.1 2981.9v-11M1647.1 2644.5v11M1797 2981.9v-11M1797 2644.5v11M1047.5 2948.5h11M1946.9 2948.5h-11M1047.5 2874.6h11M1946.9 2874.6h-11M1047.5 2800.8h11M1946.9 2800.8h-11M1047.5 2726.9h11M1946.9 2726.9h-11M1047.5 2653.1h11M1946.9 2653.1h-11" fill="none" stroke="#232323" stroke-width="3.1"/>
<text transform="translate(1035.63 3034.90) scale(1 1.04)" font-size="42.67" fill="#232323" font-family='"Liberation Sans", sans-serif'>0</text>
<clipPath id="k11"><path clip-rule="evenodd" d="M-9 -42.7H68.3V17.1H-9ZM37.29 -4.69H46.32V4.3H37.29ZM50.09 -4.69H58.63V4.3H50.09Z"/></clipPath>
<text transform="translate(1167.74 3034.90) scale(1 1.04)" font-size="42.67" fill="#232323" font-family='"Liberation Sans", sans-serif' clip-path="url(#k11)">0.1</text>
<text transform="translate(1317.64 3034.90) scale(1 1.04)" font-size="42.67" fill="#232323" font-family='"Liberation Sans", sans-serif'>0.2</text>
<text transform="translate(1467.54 3034.90) scale(1 1.04)" font-size="42.67" fill="#232323" font-family='"Liberation Sans", sans-serif'>0.3</text>
<text transform="translate(1617.44 3034.90) scale(1 1.04)" font-size="42.67" fill="#232323" font-family='"Liberation Sans", sans-serif'>0.4</text>
<text transform="translate(1767.34 3034.90) scale(1 1.04)" font-size="42.67" fill="#232323" font-family='"Liberation Sans", sans-serif'>0.5</text>
<text transform="translate(1917.24 3034.90) scale(1 1.04)" font-size="42.67" fill="#232323" font-family='"Liberation Sans", sans-serif'>0.6</text>
<text transform="translate(963.47 2966.78) scale(1 1.04)" font-size="42.67" fill="#232323" font-family='"Liberation Sans", sans-serif'>-0.4</text>
<text transform="translate(963.47 2892.93) scale(1 1.04)" font-size="42.67" fill="#232323" font-family='"Liberation Sans", sans-serif'>-0.2</text>
<text transform="translate(1013.27 2819.07) scale(1 1.04)" font-size="42.67" fill="#232323" font-family='"Liberation Sans", sans-serif'>0</text>
<text transform="translate(977.68 2745.22) scale(1 1.04)" font-size="42.67" fill="#232323" font-family='"Liberation Sans", sans-serif'>0.2</text>
<text transform="translate(977.68 2671.37) scale(1 1.04)" font-size="42.67" fill="#232323" font-family='"Liberation Sans", sans-serif'>0.4</text>
<g clip-path="url(#c2)">
<polyline points="1047.5,2904.6 1065.5,2904.2 1083.5,2899.1 1101.5,2892.4 1119.5,2886 1137.4,2878 1155.4,2869.5 1173.4,2861 1191.4,2852.1 1209.4,2844.6 1227.4,2837.9 1245.4,2831.9 1263.4,2826.6 1281.3,2822.4 1299.3,2818.6 1317.3,2815.2 1335.3,2812.2 1353.3,2810.2 1371.3,2808.5 1389.3,2807.1 1407.3,2805.9 1425.2,2805 1443.2,2804.2 1461.2,2803.6 1479.2,2803.1 1497.2,2802.7 1515.2,2802.3 1533.2,2802.1 1551.2,2801.8 1569.2,2801.6 1587.1,2801.5 1605.1,2801.4 1623.1,2801.2 1641.1,2801.2 1659.1,2801.1 1677.1,2801 1695.1,2801 1713.1,2800.9 1731,2800.9 1749,2800.9 1767,2800.9 1785,2800.9 1803,2800.8 1821,2800.8 1839,2800.8 1857,2800.8 1874.9,2800.8 1892.9,2800.8 1910.9,2800.8 1928.9,2800.8 1946.9,2800.8 1964.9,2800.8 1982.9,2800.8" fill="none" stroke="#0f0" stroke-width="3.8" stroke-linejoin="round"/>
<polyline points="1047.5,2904.6 1065.5,2981.5 1083.5,2644.4 1101.5,2909.3 1119.5,2728.1 1137.4,2848.9 1155.4,2769 1173.4,2822.4 1191.4,2787 1209.4,2810.1 1227.4,2795.3 1245.4,2805.9 1263.4,2798 1281.3,2803.7 1299.3,2799.1 1317.3,2802.9 1335.3,2800.1 1353.3,2801.9 1371.3,2800.3 1389.3,2801.3 1407.3,2800.5 1425.2,2801 1443.2,2800.5 1461.2,2801 1479.2,2800.5 1497.2,2801 1515.2,2800.5 1533.2,2801 1551.2,2800.5 1569.2,2801 1587.1,2800.5 1605.1,2801 1623.1,2800.5 1641.1,2801 1659.1,2800.5 1677.1,2801 1695.1,2800.5 1713.1,2801 1731,2800.5 1749,2801 1767,2800.5 1785,2801 1803,2800.5 1821,2801 1839,2800.5 1857,2801 1874.9,2800.5 1892.9,2801 1910.9,2800.5 1928.9,2801 1946.9,2800.5 1964.9,2801 1982.9,2800.5" fill="none" stroke="#00f" stroke-width="3.8" stroke-linejoin="round"/>
<path d="M1047.5 2763.8H1946.9" fill="none" stroke="#ff0" stroke-width="4"/>
<path d="M1047.5 2948.5H1946.9" fill="none" stroke="#ff0" stroke-width="4"/>
</g></g>
<g>
<rect x="1218.4" y="2037.2" width="721.6" height="214.5" fill="#fff" stroke="#232323" stroke-width="4"/>
<path d="M1233 2077.5H1395" fill="none" stroke="#0f0" stroke-width="9.3"/>
<text x="1407" y="2096.2" font-size="48" text-anchor="start" fill="#000" font-family='"Liberation Sans", sans-serif' textLength="330.3" lengthAdjust="spacing">ABLF controller</text>
<path d="M1233 2144.5H1395" fill="none" stroke="#00f" stroke-width="9.3"/>
<text x="1407" y="2163.2" font-size="48" text-anchor="start" fill="#000" font-family='"Liberation Sans", sans-serif' textLength="303.3" lengthAdjust="spacing">QLF controller</text>
<path d="M1233 2211.6H1395" fill="none" stroke="#ff0" stroke-width="9.3" stroke-dasharray="26.8 24.9"/>
<text x="1407" y="2230.3" font-size="48" text-anchor="start" fill="#000" font-family='"Liberation Sans", sans-serif' textLength="509.2" lengthAdjust="spacing">Tracking error boundary</text>
</g>
<text y="3691.1" font-size="87" font-weight="bold" fill="#000" font-family='"Liberation Serif", serif'><tspan x="722.10" textLength="25.50" lengthAdjust="spacingAndGlyphs" font-weight="normal">(</tspan><tspan x="752.73" textLength="46.89" lengthAdjust="spacingAndGlyphs">b</tspan><tspan x="799.77" textLength="26.65" lengthAdjust="spacingAndGlyphs" font-weight="normal">)</tspan> <tspan x="848.53" textLength="342.12" lengthAdjust="spacingAndGlyphs">Tracking</tspan> <tspan x="1211.86" textLength="205.81" lengthAdjust="spacingAndGlyphs">error.</tspan></text>
</g>
</svg></body></html>
